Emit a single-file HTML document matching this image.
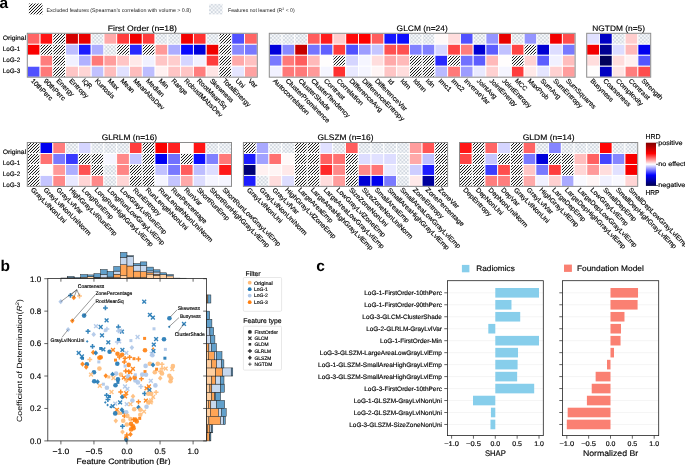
<!DOCTYPE html>
<html><head><meta charset="utf-8"><style>
html,body{margin:0;padding:0;background:#fff;width:685px;height:465px;overflow:hidden}
svg{display:block;will-change:transform;font-family:"Liberation Sans",sans-serif;text-rendering:geometricPrecision}
</style></head><body>
<svg width="685" height="465" viewBox="0 0 685 465">
<defs>
<pattern id="hatch" patternUnits="userSpaceOnUse" width="3" height="3">
<rect width="3" height="3" fill="#f8f8f8"/><path d="M-1,1 L1,-1 M0,3 L3,0 M2,4 L4,2" stroke="#1e1e1e" stroke-width="1.0"/></pattern>
<pattern id="dots" patternUnits="userSpaceOnUse" width="3.7" height="3.7">
<rect width="3.7" height="3.7" fill="#f6f8fa"/><rect x="0" y="0" width="1.85" height="1.85" fill="#d4dae2"/><rect x="1.85" y="1.85" width="1.85" height="1.85" fill="#d4dae2"/></pattern>
</defs>
<rect width="685" height="465" fill="#fff"/>
<text x="-0.60" y="8.20" font-size="15.50" font-weight="bold">a</text>
<rect x="28.9" y="3.5" width="13.6" height="10.9" fill="url(#hatch)"/>
<text x="46.4" y="12.4" font-size="5.3" fill="#222" textLength="144.6" lengthAdjust="spacingAndGlyphs">Excluded features (Spearman’s correlation with volume &gt; 0.8)</text>
<rect x="209" y="3.9" width="13.5" height="10.5" fill="url(#dots)"/>
<text x="228" y="12.4" font-size="5.3" fill="#222" textLength="66.7" lengthAdjust="spacingAndGlyphs">Features not learned (R<tspan font-size="3.6" dy="-2">2</tspan><tspan dy="2"> &lt; 0)</tspan></text>
<rect x="27.30" y="33.30" width="12.78" height="10.97" fill="#ff6565" stroke="#fff" stroke-width="0.9"/>
<rect x="40.08" y="33.30" width="12.78" height="10.97" fill="#ff1515" stroke="#fff" stroke-width="0.9"/>
<rect x="52.86" y="33.30" width="12.78" height="10.97" fill="url(#hatch)" stroke="#fff" stroke-width="0.9"/>
<rect x="65.63" y="33.30" width="12.78" height="10.97" fill="#d30000" stroke="#fff" stroke-width="0.9"/>
<rect x="78.41" y="33.30" width="12.78" height="10.97" fill="#ea0000" stroke="#fff" stroke-width="0.9"/>
<rect x="91.19" y="33.30" width="12.78" height="10.97" fill="url(#dots)" stroke="#fff" stroke-width="0.9"/>
<rect x="103.97" y="33.30" width="12.78" height="10.97" fill="#ffa9a9" stroke="#fff" stroke-width="0.9"/>
<rect x="116.74" y="33.30" width="12.78" height="10.97" fill="#ff3d3d" stroke="#fff" stroke-width="0.9"/>
<rect x="129.52" y="33.30" width="12.78" height="10.97" fill="#f20000" stroke="#fff" stroke-width="0.9"/>
<rect x="142.30" y="33.30" width="12.78" height="10.97" fill="#ff3d3d" stroke="#fff" stroke-width="0.9"/>
<rect x="155.08" y="33.30" width="12.78" height="10.97" fill="url(#dots)" stroke="#fff" stroke-width="0.9"/>
<rect x="167.86" y="33.30" width="12.78" height="10.97" fill="url(#dots)" stroke="#fff" stroke-width="0.9"/>
<rect x="180.63" y="33.30" width="12.78" height="10.97" fill="#f20000" stroke="#fff" stroke-width="0.9"/>
<rect x="193.41" y="33.30" width="12.78" height="10.97" fill="#ff3131" stroke="#fff" stroke-width="0.9"/>
<rect x="206.19" y="33.30" width="12.78" height="10.97" fill="url(#dots)" stroke="#fff" stroke-width="0.9"/>
<rect x="218.97" y="33.30" width="12.78" height="10.97" fill="url(#hatch)" stroke="#fff" stroke-width="0.9"/>
<rect x="231.74" y="33.30" width="12.78" height="10.97" fill="#5151ff" stroke="#fff" stroke-width="0.9"/>
<rect x="244.52" y="33.30" width="12.78" height="10.97" fill="#ff6565" stroke="#fff" stroke-width="0.9"/>
<rect x="27.30" y="44.27" width="12.78" height="10.97" fill="#fa0000" stroke="#fff" stroke-width="0.9"/>
<rect x="40.08" y="44.27" width="12.78" height="10.97" fill="url(#hatch)" stroke="#fff" stroke-width="0.9"/>
<rect x="52.86" y="44.27" width="12.78" height="10.97" fill="url(#hatch)" stroke="#fff" stroke-width="0.9"/>
<rect x="65.63" y="44.27" width="12.78" height="10.97" fill="#bdbdff" stroke="#fff" stroke-width="0.9"/>
<rect x="78.41" y="44.27" width="12.78" height="10.97" fill="#1d1dff" stroke="#fff" stroke-width="0.9"/>
<rect x="91.19" y="44.27" width="12.78" height="10.97" fill="#adadff" stroke="#fff" stroke-width="0.9"/>
<rect x="103.97" y="44.27" width="12.78" height="10.97" fill="url(#dots)" stroke="#fff" stroke-width="0.9"/>
<rect x="116.74" y="44.27" width="12.78" height="10.97" fill="url(#hatch)" stroke="#fff" stroke-width="0.9"/>
<rect x="129.52" y="44.27" width="12.78" height="10.97" fill="#2929ff" stroke="#fff" stroke-width="0.9"/>
<rect x="142.30" y="44.27" width="12.78" height="10.97" fill="url(#hatch)" stroke="#fff" stroke-width="0.9"/>
<rect x="155.08" y="44.27" width="12.78" height="10.97" fill="#ff9999" stroke="#fff" stroke-width="0.9"/>
<rect x="167.86" y="44.27" width="12.78" height="10.97" fill="#adadff" stroke="#fff" stroke-width="0.9"/>
<rect x="180.63" y="44.27" width="12.78" height="10.97" fill="#0909ff" stroke="#fff" stroke-width="0.9"/>
<rect x="193.41" y="44.27" width="12.78" height="10.97" fill="#0000db" stroke="#fff" stroke-width="0.9"/>
<rect x="206.19" y="44.27" width="12.78" height="10.97" fill="#f00000" stroke="#fff" stroke-width="0.9"/>
<rect x="218.97" y="44.27" width="12.78" height="10.97" fill="url(#hatch)" stroke="#fff" stroke-width="0.9"/>
<rect x="231.74" y="44.27" width="12.78" height="10.97" fill="#8989ff" stroke="#fff" stroke-width="0.9"/>
<rect x="244.52" y="44.27" width="12.78" height="10.97" fill="#7979ff" stroke="#fff" stroke-width="0.9"/>
<rect x="27.30" y="55.24" width="12.78" height="10.97" fill="#fffdfd" stroke="#fff" stroke-width="0.9"/>
<rect x="40.08" y="55.24" width="12.78" height="10.97" fill="#ff7d7d" stroke="#fff" stroke-width="0.9"/>
<rect x="52.86" y="55.24" width="12.78" height="10.97" fill="url(#hatch)" stroke="#fff" stroke-width="0.9"/>
<rect x="65.63" y="55.24" width="12.78" height="10.97" fill="#f1f1ff" stroke="#fff" stroke-width="0.9"/>
<rect x="78.41" y="55.24" width="12.78" height="10.97" fill="#b1b1ff" stroke="#fff" stroke-width="0.9"/>
<rect x="91.19" y="55.24" width="12.78" height="10.97" fill="#ff7979" stroke="#fff" stroke-width="0.9"/>
<rect x="103.97" y="55.24" width="12.78" height="10.97" fill="#ff9d9d" stroke="#fff" stroke-width="0.9"/>
<rect x="116.74" y="55.24" width="12.78" height="10.97" fill="#ffc5c5" stroke="#fff" stroke-width="0.9"/>
<rect x="129.52" y="55.24" width="12.78" height="10.97" fill="#ffe9e9" stroke="#fff" stroke-width="0.9"/>
<rect x="142.30" y="55.24" width="12.78" height="10.97" fill="#f1f1ff" stroke="#fff" stroke-width="0.9"/>
<rect x="155.08" y="55.24" width="12.78" height="10.97" fill="#ffc5c5" stroke="#fff" stroke-width="0.9"/>
<rect x="167.86" y="55.24" width="12.78" height="10.97" fill="#ffcdcd" stroke="#fff" stroke-width="0.9"/>
<rect x="180.63" y="55.24" width="12.78" height="10.97" fill="#d5d5ff" stroke="#fff" stroke-width="0.9"/>
<rect x="193.41" y="55.24" width="12.78" height="10.97" fill="#f1f1ff" stroke="#fff" stroke-width="0.9"/>
<rect x="206.19" y="55.24" width="12.78" height="10.97" fill="#ff3d3d" stroke="#fff" stroke-width="0.9"/>
<rect x="218.97" y="55.24" width="12.78" height="10.97" fill="url(#hatch)" stroke="#fff" stroke-width="0.9"/>
<rect x="231.74" y="55.24" width="12.78" height="10.97" fill="#ffa9a9" stroke="#fff" stroke-width="0.9"/>
<rect x="244.52" y="55.24" width="12.78" height="10.97" fill="#ffc1c1" stroke="#fff" stroke-width="0.9"/>
<rect x="27.30" y="66.21" width="12.78" height="10.97" fill="#5151ff" stroke="#fff" stroke-width="0.9"/>
<rect x="40.08" y="66.21" width="12.78" height="10.97" fill="#ff7979" stroke="#fff" stroke-width="0.9"/>
<rect x="52.86" y="66.21" width="12.78" height="10.97" fill="url(#hatch)" stroke="#fff" stroke-width="0.9"/>
<rect x="65.63" y="66.21" width="12.78" height="10.97" fill="#ffc5c5" stroke="#fff" stroke-width="0.9"/>
<rect x="78.41" y="66.21" width="12.78" height="10.97" fill="#ffd5d5" stroke="#fff" stroke-width="0.9"/>
<rect x="91.19" y="66.21" width="12.78" height="10.97" fill="#c1c1ff" stroke="#fff" stroke-width="0.9"/>
<rect x="103.97" y="66.21" width="12.78" height="10.97" fill="#ffbdbd" stroke="#fff" stroke-width="0.9"/>
<rect x="116.74" y="66.21" width="12.78" height="10.97" fill="#e1e1ff" stroke="#fff" stroke-width="0.9"/>
<rect x="129.52" y="66.21" width="12.78" height="10.97" fill="#ffbdbd" stroke="#fff" stroke-width="0.9"/>
<rect x="142.30" y="66.21" width="12.78" height="10.97" fill="#bdbdff" stroke="#fff" stroke-width="0.9"/>
<rect x="155.08" y="66.21" width="12.78" height="10.97" fill="#fff1f1" stroke="#fff" stroke-width="0.9"/>
<rect x="167.86" y="66.21" width="12.78" height="10.97" fill="#ffc5c5" stroke="#fff" stroke-width="0.9"/>
<rect x="180.63" y="66.21" width="12.78" height="10.97" fill="#ffc5c5" stroke="#fff" stroke-width="0.9"/>
<rect x="193.41" y="66.21" width="12.78" height="10.97" fill="#ff7d7d" stroke="#fff" stroke-width="0.9"/>
<rect x="206.19" y="66.21" width="12.78" height="10.97" fill="#ffe5e5" stroke="#fff" stroke-width="0.9"/>
<rect x="218.97" y="66.21" width="12.78" height="10.97" fill="url(#hatch)" stroke="#fff" stroke-width="0.9"/>
<rect x="231.74" y="66.21" width="12.78" height="10.97" fill="#e5e5ff" stroke="#fff" stroke-width="0.9"/>
<rect x="244.52" y="66.21" width="12.78" height="10.97" fill="#ffa1a1" stroke="#fff" stroke-width="0.9"/>
<rect x="27.30" y="33.30" width="230.00" height="43.88" fill="none" stroke="#8c8c8c" stroke-width="1"/>
<text x="142.30" y="30.80" font-size="7.98" text-anchor="middle" textLength="69.21" lengthAdjust="spacingAndGlyphs" stroke="#000" stroke-width="0.15">First Order (n=18)</text>
<text x="30.49" y="81.18" font-size="6.62" textLength="27.85" lengthAdjust="spacingAndGlyphs" transform="rotate(45 30.49 81.18)" stroke="#000" stroke-width="0.15">10thPerc</text>
<text x="43.27" y="81.18" font-size="6.62" textLength="27.85" lengthAdjust="spacingAndGlyphs" transform="rotate(45 43.27 81.18)" stroke="#000" stroke-width="0.15">90thPerc</text>
<text x="56.04" y="81.18" font-size="6.62" textLength="22.06" lengthAdjust="spacingAndGlyphs" transform="rotate(45 56.04 81.18)" stroke="#000" stroke-width="0.15">Energy</text>
<text x="68.82" y="81.18" font-size="6.62" textLength="24.48" lengthAdjust="spacingAndGlyphs" transform="rotate(45 68.82 81.18)" stroke="#000" stroke-width="0.15">Entropy</text>
<text x="81.60" y="81.18" font-size="6.62" textLength="11.19" lengthAdjust="spacingAndGlyphs" transform="rotate(45 81.60 81.18)" stroke="#000" stroke-width="0.15">IQR</text>
<text x="94.38" y="81.18" font-size="6.62" textLength="25.04" lengthAdjust="spacingAndGlyphs" transform="rotate(45 94.38 81.18)" stroke="#000" stroke-width="0.15">Kurtosis</text>
<text x="107.16" y="81.18" font-size="6.62" textLength="13.02" lengthAdjust="spacingAndGlyphs" transform="rotate(45 107.16 81.18)" stroke="#000" stroke-width="0.15">Max</text>
<text x="119.93" y="81.18" font-size="6.62" textLength="17.17" lengthAdjust="spacingAndGlyphs" transform="rotate(45 119.93 81.18)" stroke="#000" stroke-width="0.15">Mean</text>
<text x="132.71" y="81.18" font-size="6.62" textLength="41.21" lengthAdjust="spacingAndGlyphs" transform="rotate(45 132.71 81.18)" stroke="#000" stroke-width="0.15">MeanAbsDev</text>
<text x="145.49" y="81.18" font-size="6.62" textLength="22.91" lengthAdjust="spacingAndGlyphs" transform="rotate(45 145.49 81.18)" stroke="#000" stroke-width="0.15">Median</text>
<text x="158.27" y="81.18" font-size="6.62" textLength="11.18" lengthAdjust="spacingAndGlyphs" transform="rotate(45 158.27 81.18)" stroke="#000" stroke-width="0.15">Min</text>
<text x="171.04" y="81.18" font-size="6.62" textLength="19.97" lengthAdjust="spacingAndGlyphs" transform="rotate(45 171.04 81.18)" stroke="#000" stroke-width="0.15">Range</text>
<text x="183.82" y="81.18" font-size="6.62" textLength="51.18" lengthAdjust="spacingAndGlyphs" transform="rotate(45 183.82 81.18)" stroke="#000" stroke-width="0.15">RobustMAbsDev</text>
<text x="196.60" y="81.18" font-size="6.62" textLength="39.44" lengthAdjust="spacingAndGlyphs" transform="rotate(45 196.60 81.18)" stroke="#000" stroke-width="0.15">RootMeanSq</text>
<text x="209.38" y="81.18" font-size="6.62" textLength="30.88" lengthAdjust="spacingAndGlyphs" transform="rotate(45 209.38 81.18)" stroke="#000" stroke-width="0.15">Skewness</text>
<text x="222.16" y="81.18" font-size="6.62" textLength="36.77" lengthAdjust="spacingAndGlyphs" transform="rotate(45 222.16 81.18)" stroke="#000" stroke-width="0.15">TotalEnergy</text>
<text x="234.93" y="81.18" font-size="6.62" textLength="10.35" lengthAdjust="spacingAndGlyphs" transform="rotate(45 234.93 81.18)" stroke="#000" stroke-width="0.15">Uni</text>
<text x="247.71" y="81.18" font-size="6.62" textLength="10.27" lengthAdjust="spacingAndGlyphs" transform="rotate(45 247.71 81.18)" stroke="#000" stroke-width="0.15">Var</text>
<text x="2.70" y="40.28" font-size="6.30" textLength="23.48" lengthAdjust="spacingAndGlyphs" stroke="#000" stroke-width="0.15">Original</text>
<text x="2.70" y="51.25" font-size="6.30" textLength="17.54" lengthAdjust="spacingAndGlyphs" stroke="#000" stroke-width="0.15">LoG-1</text>
<text x="2.70" y="62.22" font-size="6.30" textLength="17.54" lengthAdjust="spacingAndGlyphs" stroke="#000" stroke-width="0.15">LoG-2</text>
<text x="2.70" y="73.19" font-size="6.30" textLength="17.54" lengthAdjust="spacingAndGlyphs" stroke="#000" stroke-width="0.15">LoG-3</text>
<rect x="269.30" y="33.30" width="12.74" height="10.97" fill="url(#dots)" stroke="#fff" stroke-width="0.9"/>
<rect x="282.04" y="33.30" width="12.74" height="10.97" fill="url(#dots)" stroke="#fff" stroke-width="0.9"/>
<rect x="294.78" y="33.30" width="12.74" height="10.97" fill="url(#dots)" stroke="#fff" stroke-width="0.9"/>
<rect x="307.53" y="33.30" width="12.74" height="10.97" fill="#ff5d5d" stroke="#fff" stroke-width="0.9"/>
<rect x="320.27" y="33.30" width="12.74" height="10.97" fill="#ff1d1d" stroke="#fff" stroke-width="0.9"/>
<rect x="333.01" y="33.30" width="12.74" height="10.97" fill="#ffcdcd" stroke="#fff" stroke-width="0.9"/>
<rect x="345.75" y="33.30" width="12.74" height="10.97" fill="#ff0909" stroke="#fff" stroke-width="0.9"/>
<rect x="358.49" y="33.30" width="12.74" height="10.97" fill="#fe0000" stroke="#fff" stroke-width="0.9"/>
<rect x="371.23" y="33.30" width="12.74" height="10.97" fill="#ff5d5d" stroke="#fff" stroke-width="0.9"/>
<rect x="383.98" y="33.30" width="12.74" height="10.97" fill="#1515ff" stroke="#fff" stroke-width="0.9"/>
<rect x="396.72" y="33.30" width="12.74" height="10.97" fill="#0d0dff" stroke="#fff" stroke-width="0.9"/>
<rect x="409.46" y="33.30" width="12.74" height="10.97" fill="url(#dots)" stroke="#fff" stroke-width="0.9"/>
<rect x="422.20" y="33.30" width="12.74" height="10.97" fill="url(#dots)" stroke="#fff" stroke-width="0.9"/>
<rect x="434.94" y="33.30" width="12.74" height="10.97" fill="#fff9f9" stroke="#fff" stroke-width="0.9"/>
<rect x="447.68" y="33.30" width="12.74" height="10.97" fill="#ffdddd" stroke="#fff" stroke-width="0.9"/>
<rect x="460.43" y="33.30" width="12.74" height="10.97" fill="#5151ff" stroke="#fff" stroke-width="0.9"/>
<rect x="473.17" y="33.30" width="12.74" height="10.97" fill="url(#dots)" stroke="#fff" stroke-width="0.9"/>
<rect x="485.91" y="33.30" width="12.74" height="10.97" fill="#9595ff" stroke="#fff" stroke-width="0.9"/>
<rect x="498.65" y="33.30" width="12.74" height="10.97" fill="#e80000" stroke="#fff" stroke-width="0.9"/>
<rect x="511.39" y="33.30" width="12.74" height="10.97" fill="url(#dots)" stroke="#fff" stroke-width="0.9"/>
<rect x="524.13" y="33.30" width="12.74" height="10.97" fill="#9595ff" stroke="#fff" stroke-width="0.9"/>
<rect x="536.88" y="33.30" width="12.74" height="10.97" fill="url(#dots)" stroke="#fff" stroke-width="0.9"/>
<rect x="549.62" y="33.30" width="12.74" height="10.97" fill="#f20000" stroke="#fff" stroke-width="0.9"/>
<rect x="562.36" y="33.30" width="12.74" height="10.97" fill="#ff4d4d" stroke="#fff" stroke-width="0.9"/>
<rect x="269.30" y="44.27" width="12.74" height="10.97" fill="#0000db" stroke="#fff" stroke-width="0.9"/>
<rect x="282.04" y="44.27" width="12.74" height="10.97" fill="#8989ff" stroke="#fff" stroke-width="0.9"/>
<rect x="294.78" y="44.27" width="12.74" height="10.97" fill="#c60000" stroke="#fff" stroke-width="0.9"/>
<rect x="307.53" y="44.27" width="12.74" height="10.97" fill="#7575ff" stroke="#fff" stroke-width="0.9"/>
<rect x="320.27" y="44.27" width="12.74" height="10.97" fill="#6161ff" stroke="#fff" stroke-width="0.9"/>
<rect x="333.01" y="44.27" width="12.74" height="10.97" fill="#ff3d3d" stroke="#fff" stroke-width="0.9"/>
<rect x="345.75" y="44.27" width="12.74" height="10.97" fill="#5151ff" stroke="#fff" stroke-width="0.9"/>
<rect x="358.49" y="44.27" width="12.74" height="10.97" fill="#9d9dff" stroke="#fff" stroke-width="0.9"/>
<rect x="371.23" y="44.27" width="12.74" height="10.97" fill="#c5c5ff" stroke="#fff" stroke-width="0.9"/>
<rect x="383.98" y="44.27" width="12.74" height="10.97" fill="#ff5151" stroke="#fff" stroke-width="0.9"/>
<rect x="396.72" y="44.27" width="12.74" height="10.97" fill="#ff5151" stroke="#fff" stroke-width="0.9"/>
<rect x="409.46" y="44.27" width="12.74" height="10.97" fill="#8181ff" stroke="#fff" stroke-width="0.9"/>
<rect x="422.20" y="44.27" width="12.74" height="10.97" fill="#8181ff" stroke="#fff" stroke-width="0.9"/>
<rect x="434.94" y="44.27" width="12.74" height="10.97" fill="#d5d5ff" stroke="#fff" stroke-width="0.9"/>
<rect x="447.68" y="44.27" width="12.74" height="10.97" fill="#ff4545" stroke="#fff" stroke-width="0.9"/>
<rect x="460.43" y="44.27" width="12.74" height="10.97" fill="#ff7d7d" stroke="#fff" stroke-width="0.9"/>
<rect x="473.17" y="44.27" width="12.74" height="10.97" fill="#0000d3" stroke="#fff" stroke-width="0.9"/>
<rect x="485.91" y="44.27" width="12.74" height="10.97" fill="#5d5dff" stroke="#fff" stroke-width="0.9"/>
<rect x="498.65" y="44.27" width="12.74" height="10.97" fill="#c1c1ff" stroke="#fff" stroke-width="0.9"/>
<rect x="511.39" y="44.27" width="12.74" height="10.97" fill="#ff4545" stroke="#fff" stroke-width="0.9"/>
<rect x="524.13" y="44.27" width="12.74" height="10.97" fill="url(#hatch)" stroke="#fff" stroke-width="0.9"/>
<rect x="536.88" y="44.27" width="12.74" height="10.97" fill="#0000d3" stroke="#fff" stroke-width="0.9"/>
<rect x="549.62" y="44.27" width="12.74" height="10.97" fill="#ddddff" stroke="#fff" stroke-width="0.9"/>
<rect x="562.36" y="44.27" width="12.74" height="10.97" fill="#7979ff" stroke="#fff" stroke-width="0.9"/>
<rect x="269.30" y="55.24" width="12.74" height="10.97" fill="#7979ff" stroke="#fff" stroke-width="0.9"/>
<rect x="282.04" y="55.24" width="12.74" height="10.97" fill="#ff7979" stroke="#fff" stroke-width="0.9"/>
<rect x="294.78" y="55.24" width="12.74" height="10.97" fill="#ff5d5d" stroke="#fff" stroke-width="0.9"/>
<rect x="307.53" y="55.24" width="12.74" height="10.97" fill="#ffb9b9" stroke="#fff" stroke-width="0.9"/>
<rect x="320.27" y="55.24" width="12.74" height="10.97" fill="#fffdfd" stroke="#fff" stroke-width="0.9"/>
<rect x="333.01" y="55.24" width="12.74" height="10.97" fill="url(#hatch)" stroke="#fff" stroke-width="0.9"/>
<rect x="345.75" y="55.24" width="12.74" height="10.97" fill="#d5d5ff" stroke="#fff" stroke-width="0.9"/>
<rect x="358.49" y="55.24" width="12.74" height="10.97" fill="#f5f5ff" stroke="#fff" stroke-width="0.9"/>
<rect x="371.23" y="55.24" width="12.74" height="10.97" fill="#ffdddd" stroke="#fff" stroke-width="0.9"/>
<rect x="383.98" y="55.24" width="12.74" height="10.97" fill="#ffa9a9" stroke="#fff" stroke-width="0.9"/>
<rect x="396.72" y="55.24" width="12.74" height="10.97" fill="#ffb9b9" stroke="#fff" stroke-width="0.9"/>
<rect x="409.46" y="55.24" width="12.74" height="10.97" fill="url(#hatch)" stroke="#fff" stroke-width="0.9"/>
<rect x="422.20" y="55.24" width="12.74" height="10.97" fill="url(#hatch)" stroke="#fff" stroke-width="0.9"/>
<rect x="434.94" y="55.24" width="12.74" height="10.97" fill="#2929ff" stroke="#fff" stroke-width="0.9"/>
<rect x="447.68" y="55.24" width="12.74" height="10.97" fill="url(#hatch)" stroke="#fff" stroke-width="0.9"/>
<rect x="460.43" y="55.24" width="12.74" height="10.97" fill="#7171ff" stroke="#fff" stroke-width="0.9"/>
<rect x="473.17" y="55.24" width="12.74" height="10.97" fill="#5d5dff" stroke="#fff" stroke-width="0.9"/>
<rect x="485.91" y="55.24" width="12.74" height="10.97" fill="#ffb9b9" stroke="#fff" stroke-width="0.9"/>
<rect x="498.65" y="55.24" width="12.74" height="10.97" fill="#fffdfd" stroke="#fff" stroke-width="0.9"/>
<rect x="511.39" y="55.24" width="12.74" height="10.97" fill="url(#hatch)" stroke="#fff" stroke-width="0.9"/>
<rect x="524.13" y="55.24" width="12.74" height="10.97" fill="#ffd1d1" stroke="#fff" stroke-width="0.9"/>
<rect x="536.88" y="55.24" width="12.74" height="10.97" fill="#5d5dff" stroke="#fff" stroke-width="0.9"/>
<rect x="549.62" y="55.24" width="12.74" height="10.97" fill="#f1f1ff" stroke="#fff" stroke-width="0.9"/>
<rect x="562.36" y="55.24" width="12.74" height="10.97" fill="#ffbdbd" stroke="#fff" stroke-width="0.9"/>
<rect x="269.30" y="66.21" width="12.74" height="10.97" fill="#f1f1ff" stroke="#fff" stroke-width="0.9"/>
<rect x="282.04" y="66.21" width="12.74" height="10.97" fill="#ff7979" stroke="#fff" stroke-width="0.9"/>
<rect x="294.78" y="66.21" width="12.74" height="10.97" fill="#ff7979" stroke="#fff" stroke-width="0.9"/>
<rect x="307.53" y="66.21" width="12.74" height="10.97" fill="#ff9999" stroke="#fff" stroke-width="0.9"/>
<rect x="320.27" y="66.21" width="12.74" height="10.97" fill="#f5f5ff" stroke="#fff" stroke-width="0.9"/>
<rect x="333.01" y="66.21" width="12.74" height="10.97" fill="#ff3131" stroke="#fff" stroke-width="0.9"/>
<rect x="345.75" y="66.21" width="12.74" height="10.97" fill="#e9e9ff" stroke="#fff" stroke-width="0.9"/>
<rect x="358.49" y="66.21" width="12.74" height="10.97" fill="#f5f5ff" stroke="#fff" stroke-width="0.9"/>
<rect x="371.23" y="66.21" width="12.74" height="10.97" fill="#fff5f5" stroke="#fff" stroke-width="0.9"/>
<rect x="383.98" y="66.21" width="12.74" height="10.97" fill="#ffc5c5" stroke="#fff" stroke-width="0.9"/>
<rect x="396.72" y="66.21" width="12.74" height="10.97" fill="#ffdddd" stroke="#fff" stroke-width="0.9"/>
<rect x="409.46" y="66.21" width="12.74" height="10.97" fill="url(#hatch)" stroke="#fff" stroke-width="0.9"/>
<rect x="422.20" y="66.21" width="12.74" height="10.97" fill="url(#hatch)" stroke="#fff" stroke-width="0.9"/>
<rect x="434.94" y="66.21" width="12.74" height="10.97" fill="#b9b9ff" stroke="#fff" stroke-width="0.9"/>
<rect x="447.68" y="66.21" width="12.74" height="10.97" fill="#ff7979" stroke="#fff" stroke-width="0.9"/>
<rect x="460.43" y="66.21" width="12.74" height="10.97" fill="#9d9dff" stroke="#fff" stroke-width="0.9"/>
<rect x="473.17" y="66.21" width="12.74" height="10.97" fill="#e9e9ff" stroke="#fff" stroke-width="0.9"/>
<rect x="485.91" y="66.21" width="12.74" height="10.97" fill="#ffd1d1" stroke="#fff" stroke-width="0.9"/>
<rect x="498.65" y="66.21" width="12.74" height="10.97" fill="#f5f5ff" stroke="#fff" stroke-width="0.9"/>
<rect x="511.39" y="66.21" width="12.74" height="10.97" fill="#ff3d3d" stroke="#fff" stroke-width="0.9"/>
<rect x="524.13" y="66.21" width="12.74" height="10.97" fill="#ffe9e9" stroke="#fff" stroke-width="0.9"/>
<rect x="536.88" y="66.21" width="12.74" height="10.97" fill="#e5e5ff" stroke="#fff" stroke-width="0.9"/>
<rect x="549.62" y="66.21" width="12.74" height="10.97" fill="#ffd1d1" stroke="#fff" stroke-width="0.9"/>
<rect x="562.36" y="66.21" width="12.74" height="10.97" fill="#ff9d9d" stroke="#fff" stroke-width="0.9"/>
<rect x="269.30" y="33.30" width="305.80" height="43.88" fill="none" stroke="#8c8c8c" stroke-width="1"/>
<text x="422.20" y="30.80" font-size="7.98" text-anchor="middle" textLength="51.19" lengthAdjust="spacingAndGlyphs" stroke="#000" stroke-width="0.15">GLCM (n=24)</text>
<text x="272.47" y="81.18" font-size="6.62" textLength="48.43" lengthAdjust="spacingAndGlyphs" transform="rotate(45 272.47 81.18)" stroke="#000" stroke-width="0.15">Autocorrelation</text>
<text x="285.21" y="81.18" font-size="6.62" textLength="59.44" lengthAdjust="spacingAndGlyphs" transform="rotate(45 285.21 81.18)" stroke="#000" stroke-width="0.15">ClusterProminence</text>
<text x="297.95" y="81.18" font-size="6.62" textLength="42.09" lengthAdjust="spacingAndGlyphs" transform="rotate(45 297.95 81.18)" stroke="#000" stroke-width="0.15">ClusterShade</text>
<text x="310.70" y="81.18" font-size="6.62" textLength="52.07" lengthAdjust="spacingAndGlyphs" transform="rotate(45 310.70 81.18)" stroke="#000" stroke-width="0.15">ClusterTendency</text>
<text x="323.44" y="81.18" font-size="6.62" textLength="26.92" lengthAdjust="spacingAndGlyphs" transform="rotate(45 323.44 81.18)" stroke="#000" stroke-width="0.15">Contrast</text>
<text x="336.18" y="81.18" font-size="6.62" textLength="34.74" lengthAdjust="spacingAndGlyphs" transform="rotate(45 336.18 81.18)" stroke="#000" stroke-width="0.15">Correlation</text>
<text x="348.92" y="81.18" font-size="6.62" textLength="44.15" lengthAdjust="spacingAndGlyphs" transform="rotate(45 348.92 81.18)" stroke="#000" stroke-width="0.15">DifferenceAvg</text>
<text x="361.66" y="81.18" font-size="6.62" textLength="56.96" lengthAdjust="spacingAndGlyphs" transform="rotate(45 361.66 81.18)" stroke="#000" stroke-width="0.15">DifferenceEntropy</text>
<text x="374.40" y="81.18" font-size="6.62" textLength="42.75" lengthAdjust="spacingAndGlyphs" transform="rotate(45 374.40 81.18)" stroke="#000" stroke-width="0.15">DifferenceVar</text>
<text x="387.15" y="81.18" font-size="6.62" textLength="5.86" lengthAdjust="spacingAndGlyphs" transform="rotate(45 387.15 81.18)" stroke="#000" stroke-width="0.15">Id</text>
<text x="399.89" y="81.18" font-size="6.62" textLength="11.99" lengthAdjust="spacingAndGlyphs" transform="rotate(45 399.89 81.18)" stroke="#000" stroke-width="0.15">Idm</text>
<text x="412.63" y="81.18" font-size="6.62" textLength="15.99" lengthAdjust="spacingAndGlyphs" transform="rotate(45 412.63 81.18)" stroke="#000" stroke-width="0.15">Idmn</text>
<text x="425.37" y="81.18" font-size="6.62" textLength="9.85" lengthAdjust="spacingAndGlyphs" transform="rotate(45 425.37 81.18)" stroke="#000" stroke-width="0.15">Idn</text>
<text x="438.11" y="81.18" font-size="6.62" textLength="15.47" lengthAdjust="spacingAndGlyphs" transform="rotate(45 438.11 81.18)" stroke="#000" stroke-width="0.15">Imc1</text>
<text x="450.85" y="81.18" font-size="6.62" textLength="15.47" lengthAdjust="spacingAndGlyphs" transform="rotate(45 450.85 81.18)" stroke="#000" stroke-width="0.15">Imc2</text>
<text x="463.60" y="81.18" font-size="6.62" textLength="33.48" lengthAdjust="spacingAndGlyphs" transform="rotate(45 463.60 81.18)" stroke="#000" stroke-width="0.15">InverseVar</text>
<text x="476.34" y="81.18" font-size="6.62" textLength="25.59" lengthAdjust="spacingAndGlyphs" transform="rotate(45 476.34 81.18)" stroke="#000" stroke-width="0.15">JointAvg</text>
<text x="489.08" y="81.18" font-size="6.62" textLength="35.98" lengthAdjust="spacingAndGlyphs" transform="rotate(45 489.08 81.18)" stroke="#000" stroke-width="0.15">JointEnergy</text>
<text x="501.82" y="81.18" font-size="6.62" textLength="38.40" lengthAdjust="spacingAndGlyphs" transform="rotate(45 501.82 81.18)" stroke="#000" stroke-width="0.15">JointEntropy</text>
<text x="514.56" y="81.18" font-size="6.62" textLength="14.23" lengthAdjust="spacingAndGlyphs" transform="rotate(45 514.56 81.18)" stroke="#000" stroke-width="0.15">MCC</text>
<text x="527.30" y="81.18" font-size="6.62" textLength="27.02" lengthAdjust="spacingAndGlyphs" transform="rotate(45 527.30 81.18)" stroke="#000" stroke-width="0.15">MaxProb</text>
<text x="540.05" y="81.18" font-size="6.62" textLength="25.80" lengthAdjust="spacingAndGlyphs" transform="rotate(45 540.05 81.18)" stroke="#000" stroke-width="0.15">SumAvg</text>
<text x="552.79" y="81.18" font-size="6.62" textLength="38.61" lengthAdjust="spacingAndGlyphs" transform="rotate(45 552.79 81.18)" stroke="#000" stroke-width="0.15">SumEntropy</text>
<text x="565.53" y="81.18" font-size="6.62" textLength="39.59" lengthAdjust="spacingAndGlyphs" transform="rotate(45 565.53 81.18)" stroke="#000" stroke-width="0.15">SumSquares</text>
<rect x="586.70" y="33.30" width="12.80" height="10.97" fill="#e1e1ff" stroke="#fff" stroke-width="0.9"/>
<rect x="599.50" y="33.30" width="12.80" height="10.97" fill="#0000c5" stroke="#fff" stroke-width="0.9"/>
<rect x="612.30" y="33.30" width="12.80" height="10.97" fill="url(#dots)" stroke="#fff" stroke-width="0.9"/>
<rect x="625.10" y="33.30" width="12.80" height="10.97" fill="#ffcdcd" stroke="#fff" stroke-width="0.9"/>
<rect x="637.90" y="33.30" width="12.80" height="10.97" fill="url(#dots)" stroke="#fff" stroke-width="0.9"/>
<rect x="586.70" y="44.27" width="12.80" height="10.97" fill="#f40000" stroke="#fff" stroke-width="0.9"/>
<rect x="599.50" y="44.27" width="12.80" height="10.97" fill="#000092" stroke="#fff" stroke-width="0.9"/>
<rect x="612.30" y="44.27" width="12.80" height="10.97" fill="#ddddff" stroke="#fff" stroke-width="0.9"/>
<rect x="625.10" y="44.27" width="12.80" height="10.97" fill="#ffb9b9" stroke="#fff" stroke-width="0.9"/>
<rect x="637.90" y="44.27" width="12.80" height="10.97" fill="#0000ef" stroke="#fff" stroke-width="0.9"/>
<rect x="586.70" y="55.24" width="12.80" height="10.97" fill="#ffdddd" stroke="#fff" stroke-width="0.9"/>
<rect x="599.50" y="55.24" width="12.80" height="10.97" fill="#00005a" stroke="#fff" stroke-width="0.9"/>
<rect x="612.30" y="55.24" width="12.80" height="10.97" fill="#ffdddd" stroke="#fff" stroke-width="0.9"/>
<rect x="625.10" y="55.24" width="12.80" height="10.97" fill="#fff1f1" stroke="#fff" stroke-width="0.9"/>
<rect x="637.90" y="55.24" width="12.80" height="10.97" fill="#5555ff" stroke="#fff" stroke-width="0.9"/>
<rect x="586.70" y="66.21" width="12.80" height="10.97" fill="#fffdfd" stroke="#fff" stroke-width="0.9"/>
<rect x="599.50" y="66.21" width="12.80" height="10.97" fill="#0000c2" stroke="#fff" stroke-width="0.9"/>
<rect x="612.30" y="66.21" width="12.80" height="10.97" fill="#ffe5e5" stroke="#fff" stroke-width="0.9"/>
<rect x="625.10" y="66.21" width="12.80" height="10.97" fill="#ff7d7d" stroke="#fff" stroke-width="0.9"/>
<rect x="637.90" y="66.21" width="12.80" height="10.97" fill="#ff4d4d" stroke="#fff" stroke-width="0.9"/>
<rect x="586.70" y="33.30" width="64.00" height="43.88" fill="none" stroke="#8c8c8c" stroke-width="1"/>
<text x="618.70" y="30.80" font-size="7.98" text-anchor="middle" textLength="52.72" lengthAdjust="spacingAndGlyphs" stroke="#000" stroke-width="0.15">NGTDM (n=5)</text>
<text x="589.90" y="81.18" font-size="6.62" textLength="29.76" lengthAdjust="spacingAndGlyphs" transform="rotate(45 589.90 81.18)" stroke="#000" stroke-width="0.15">Busyness</text>
<text x="602.70" y="81.18" font-size="6.62" textLength="36.30" lengthAdjust="spacingAndGlyphs" transform="rotate(45 602.70 81.18)" stroke="#000" stroke-width="0.15">Coarseness</text>
<text x="615.50" y="81.18" font-size="6.62" textLength="35.58" lengthAdjust="spacingAndGlyphs" transform="rotate(45 615.50 81.18)" stroke="#000" stroke-width="0.15">Complexity</text>
<text x="628.30" y="81.18" font-size="6.62" textLength="26.92" lengthAdjust="spacingAndGlyphs" transform="rotate(45 628.30 81.18)" stroke="#000" stroke-width="0.15">Contrast</text>
<text x="641.10" y="81.18" font-size="6.62" textLength="27.25" lengthAdjust="spacingAndGlyphs" transform="rotate(45 641.10 81.18)" stroke="#000" stroke-width="0.15">Strength</text>
<rect x="27.30" y="142.50" width="12.76" height="10.97" fill="url(#hatch)" stroke="#fff" stroke-width="0.9"/>
<rect x="40.06" y="142.50" width="12.76" height="10.97" fill="#0000ef" stroke="#fff" stroke-width="0.9"/>
<rect x="52.83" y="142.50" width="12.76" height="10.97" fill="#ff7d7d" stroke="#fff" stroke-width="0.9"/>
<rect x="65.59" y="142.50" width="12.76" height="10.97" fill="url(#dots)" stroke="#fff" stroke-width="0.9"/>
<rect x="78.35" y="142.50" width="12.76" height="10.97" fill="#d5d5ff" stroke="#fff" stroke-width="0.9"/>
<rect x="91.11" y="142.50" width="12.76" height="10.97" fill="url(#dots)" stroke="#fff" stroke-width="0.9"/>
<rect x="103.87" y="142.50" width="12.76" height="10.97" fill="url(#dots)" stroke="#fff" stroke-width="0.9"/>
<rect x="116.64" y="142.50" width="12.76" height="10.97" fill="url(#dots)" stroke="#fff" stroke-width="0.9"/>
<rect x="129.40" y="142.50" width="12.76" height="10.97" fill="#ff3d3d" stroke="#fff" stroke-width="0.9"/>
<rect x="142.16" y="142.50" width="12.76" height="10.97" fill="url(#hatch)" stroke="#fff" stroke-width="0.9"/>
<rect x="154.93" y="142.50" width="12.76" height="10.97" fill="#fa0000" stroke="#fff" stroke-width="0.9"/>
<rect x="167.69" y="142.50" width="12.76" height="10.97" fill="#ff2121" stroke="#fff" stroke-width="0.9"/>
<rect x="180.45" y="142.50" width="12.76" height="10.97" fill="#fffdfd" stroke="#fff" stroke-width="0.9"/>
<rect x="193.21" y="142.50" width="12.76" height="10.97" fill="#ff1515" stroke="#fff" stroke-width="0.9"/>
<rect x="205.97" y="142.50" width="12.76" height="10.97" fill="url(#dots)" stroke="#fff" stroke-width="0.9"/>
<rect x="218.74" y="142.50" width="12.76" height="10.97" fill="url(#dots)" stroke="#fff" stroke-width="0.9"/>
<rect x="27.30" y="153.47" width="12.76" height="10.97" fill="url(#hatch)" stroke="#fff" stroke-width="0.9"/>
<rect x="40.06" y="153.47" width="12.76" height="10.97" fill="#ff7171" stroke="#fff" stroke-width="0.9"/>
<rect x="52.83" y="153.47" width="12.76" height="10.97" fill="#7979ff" stroke="#fff" stroke-width="0.9"/>
<rect x="65.59" y="153.47" width="12.76" height="10.97" fill="#3939ff" stroke="#fff" stroke-width="0.9"/>
<rect x="78.35" y="153.47" width="12.76" height="10.97" fill="url(#hatch)" stroke="#fff" stroke-width="0.9"/>
<rect x="91.11" y="153.47" width="12.76" height="10.97" fill="url(#hatch)" stroke="#fff" stroke-width="0.9"/>
<rect x="103.87" y="153.47" width="12.76" height="10.97" fill="#f5f5ff" stroke="#fff" stroke-width="0.9"/>
<rect x="116.64" y="153.47" width="12.76" height="10.97" fill="#ff8989" stroke="#fff" stroke-width="0.9"/>
<rect x="129.40" y="153.47" width="12.76" height="10.97" fill="#c5c5ff" stroke="#fff" stroke-width="0.9"/>
<rect x="142.16" y="153.47" width="12.76" height="10.97" fill="url(#hatch)" stroke="#fff" stroke-width="0.9"/>
<rect x="154.93" y="153.47" width="12.76" height="10.97" fill="#0000f4" stroke="#fff" stroke-width="0.9"/>
<rect x="167.69" y="153.47" width="12.76" height="10.97" fill="#7171ff" stroke="#fff" stroke-width="0.9"/>
<rect x="180.45" y="153.47" width="12.76" height="10.97" fill="url(#hatch)" stroke="#fff" stroke-width="0.9"/>
<rect x="193.21" y="153.47" width="12.76" height="10.97" fill="#0d0dff" stroke="#fff" stroke-width="0.9"/>
<rect x="205.97" y="153.47" width="12.76" height="10.97" fill="#8181ff" stroke="#fff" stroke-width="0.9"/>
<rect x="218.74" y="153.47" width="12.76" height="10.97" fill="#ff7979" stroke="#fff" stroke-width="0.9"/>
<rect x="27.30" y="164.44" width="12.76" height="10.97" fill="url(#hatch)" stroke="#fff" stroke-width="0.9"/>
<rect x="40.06" y="164.44" width="12.76" height="10.97" fill="#fffdfd" stroke="#fff" stroke-width="0.9"/>
<rect x="52.83" y="164.44" width="12.76" height="10.97" fill="#ff9999" stroke="#fff" stroke-width="0.9"/>
<rect x="65.59" y="164.44" width="12.76" height="10.97" fill="#adadff" stroke="#fff" stroke-width="0.9"/>
<rect x="78.35" y="164.44" width="12.76" height="10.97" fill="#ff5151" stroke="#fff" stroke-width="0.9"/>
<rect x="91.11" y="164.44" width="12.76" height="10.97" fill="url(#hatch)" stroke="#fff" stroke-width="0.9"/>
<rect x="103.87" y="164.44" width="12.76" height="10.97" fill="url(#dots)" stroke="#fff" stroke-width="0.9"/>
<rect x="116.64" y="164.44" width="12.76" height="10.97" fill="#ff8585" stroke="#fff" stroke-width="0.9"/>
<rect x="129.40" y="164.44" width="12.76" height="10.97" fill="url(#hatch)" stroke="#fff" stroke-width="0.9"/>
<rect x="142.16" y="164.44" width="12.76" height="10.97" fill="url(#hatch)" stroke="#fff" stroke-width="0.9"/>
<rect x="154.93" y="164.44" width="12.76" height="10.97" fill="#c1c1ff" stroke="#fff" stroke-width="0.9"/>
<rect x="167.69" y="164.44" width="12.76" height="10.97" fill="#7979ff" stroke="#fff" stroke-width="0.9"/>
<rect x="180.45" y="164.44" width="12.76" height="10.97" fill="#ff5d5d" stroke="#fff" stroke-width="0.9"/>
<rect x="193.21" y="164.44" width="12.76" height="10.97" fill="#bdbdff" stroke="#fff" stroke-width="0.9"/>
<rect x="205.97" y="164.44" width="12.76" height="10.97" fill="#ddddff" stroke="#fff" stroke-width="0.9"/>
<rect x="218.74" y="164.44" width="12.76" height="10.97" fill="#ff1919" stroke="#fff" stroke-width="0.9"/>
<rect x="27.30" y="175.41" width="12.76" height="10.97" fill="url(#hatch)" stroke="#fff" stroke-width="0.9"/>
<rect x="40.06" y="175.41" width="12.76" height="10.97" fill="#c5c5ff" stroke="#fff" stroke-width="0.9"/>
<rect x="52.83" y="175.41" width="12.76" height="10.97" fill="#ff8989" stroke="#fff" stroke-width="0.9"/>
<rect x="65.59" y="175.41" width="12.76" height="10.97" fill="#e9e9ff" stroke="#fff" stroke-width="0.9"/>
<rect x="78.35" y="175.41" width="12.76" height="10.97" fill="#ffd5d5" stroke="#fff" stroke-width="0.9"/>
<rect x="91.11" y="175.41" width="12.76" height="10.97" fill="#ff8989" stroke="#fff" stroke-width="0.9"/>
<rect x="103.87" y="175.41" width="12.76" height="10.97" fill="url(#dots)" stroke="#fff" stroke-width="0.9"/>
<rect x="116.64" y="175.41" width="12.76" height="10.97" fill="#ffd5d5" stroke="#fff" stroke-width="0.9"/>
<rect x="129.40" y="175.41" width="12.76" height="10.97" fill="url(#hatch)" stroke="#fff" stroke-width="0.9"/>
<rect x="142.16" y="175.41" width="12.76" height="10.97" fill="url(#hatch)" stroke="#fff" stroke-width="0.9"/>
<rect x="154.93" y="175.41" width="12.76" height="10.97" fill="#f5f5ff" stroke="#fff" stroke-width="0.9"/>
<rect x="167.69" y="175.41" width="12.76" height="10.97" fill="#c5c5ff" stroke="#fff" stroke-width="0.9"/>
<rect x="180.45" y="175.41" width="12.76" height="10.97" fill="#ffa9a9" stroke="#fff" stroke-width="0.9"/>
<rect x="193.21" y="175.41" width="12.76" height="10.97" fill="#ddddff" stroke="#fff" stroke-width="0.9"/>
<rect x="205.97" y="175.41" width="12.76" height="10.97" fill="#f5f5ff" stroke="#fff" stroke-width="0.9"/>
<rect x="218.74" y="175.41" width="12.76" height="10.97" fill="#f5f5ff" stroke="#fff" stroke-width="0.9"/>
<rect x="27.30" y="142.50" width="204.20" height="43.88" fill="none" stroke="#8c8c8c" stroke-width="1"/>
<text x="129.40" y="140.00" font-size="7.98" text-anchor="middle" textLength="55.40" lengthAdjust="spacingAndGlyphs" stroke="#000" stroke-width="0.15">GLRLM (n=16)</text>
<text x="30.48" y="190.38" font-size="6.62" textLength="46.96" lengthAdjust="spacingAndGlyphs" transform="rotate(45 30.48 190.38)" stroke="#000" stroke-width="0.15">GrayLvlNonUni</text>
<text x="43.24" y="190.38" font-size="6.62" textLength="64.15" lengthAdjust="spacingAndGlyphs" transform="rotate(45 43.24 190.38)" stroke="#000" stroke-width="0.15">GrayLvlNonUniNorm</text>
<text x="56.01" y="190.38" font-size="6.62" textLength="34.32" lengthAdjust="spacingAndGlyphs" transform="rotate(45 56.01 190.38)" stroke="#000" stroke-width="0.15">GrayLvlVar</text>
<text x="68.77" y="190.38" font-size="6.62" textLength="64.73" lengthAdjust="spacingAndGlyphs" transform="rotate(45 68.77 190.38)" stroke="#000" stroke-width="0.15">HighGrayLvlRunEmp</text>
<text x="81.53" y="190.38" font-size="6.62" textLength="41.44" lengthAdjust="spacingAndGlyphs" transform="rotate(45 81.53 190.38)" stroke="#000" stroke-width="0.15">LongRunEmp</text>
<text x="94.29" y="190.38" font-size="6.62" textLength="79.97" lengthAdjust="spacingAndGlyphs" transform="rotate(45 94.29 190.38)" stroke="#000" stroke-width="0.15">LongRunHighGrayLvlEmp</text>
<text x="107.06" y="190.38" font-size="6.62" textLength="77.90" lengthAdjust="spacingAndGlyphs" transform="rotate(45 107.06 190.38)" stroke="#000" stroke-width="0.15">LongRunLowGrayLvlEmp</text>
<text x="119.82" y="190.38" font-size="6.62" textLength="62.65" lengthAdjust="spacingAndGlyphs" transform="rotate(45 119.82 190.38)" stroke="#000" stroke-width="0.15">LowGrayLvlRunEmp</text>
<text x="132.58" y="190.38" font-size="6.62" textLength="36.56" lengthAdjust="spacingAndGlyphs" transform="rotate(45 132.58 190.38)" stroke="#000" stroke-width="0.15">RunEntropy</text>
<text x="145.34" y="190.38" font-size="6.62" textLength="56.72" lengthAdjust="spacingAndGlyphs" transform="rotate(45 145.34 190.38)" stroke="#000" stroke-width="0.15">RunLengthNonUni</text>
<text x="158.11" y="190.38" font-size="6.62" textLength="73.91" lengthAdjust="spacingAndGlyphs" transform="rotate(45 158.11 190.38)" stroke="#000" stroke-width="0.15">RunLengthNonUniNorm</text>
<text x="170.87" y="190.38" font-size="6.62" textLength="47.52" lengthAdjust="spacingAndGlyphs" transform="rotate(45 170.87 190.38)" stroke="#000" stroke-width="0.15">RunPercentage</text>
<text x="183.63" y="190.38" font-size="6.62" textLength="22.35" lengthAdjust="spacingAndGlyphs" transform="rotate(45 183.63 190.38)" stroke="#000" stroke-width="0.15">RunVar</text>
<text x="196.39" y="190.38" font-size="6.62" textLength="43.10" lengthAdjust="spacingAndGlyphs" transform="rotate(45 196.39 190.38)" stroke="#000" stroke-width="0.15">ShortRunEmp</text>
<text x="209.16" y="190.38" font-size="6.62" textLength="81.63" lengthAdjust="spacingAndGlyphs" transform="rotate(45 209.16 190.38)" stroke="#000" stroke-width="0.15">ShortRunHighGrayLvlEmp</text>
<text x="221.92" y="190.38" font-size="6.62" textLength="79.56" lengthAdjust="spacingAndGlyphs" transform="rotate(45 221.92 190.38)" stroke="#000" stroke-width="0.15">ShortRunLowGrayLvlEmp</text>
<text x="2.70" y="153.79" font-size="6.30" textLength="23.48" lengthAdjust="spacingAndGlyphs" stroke="#000" stroke-width="0.15">Original</text>
<text x="2.70" y="164.76" font-size="6.30" textLength="17.54" lengthAdjust="spacingAndGlyphs" stroke="#000" stroke-width="0.15">LoG-1</text>
<text x="2.70" y="175.73" font-size="6.30" textLength="17.54" lengthAdjust="spacingAndGlyphs" stroke="#000" stroke-width="0.15">LoG-2</text>
<text x="2.70" y="186.70" font-size="6.30" textLength="17.54" lengthAdjust="spacingAndGlyphs" stroke="#000" stroke-width="0.15">LoG-3</text>
<rect x="243.40" y="142.50" width="12.76" height="10.97" fill="url(#hatch)" stroke="#fff" stroke-width="0.9"/>
<rect x="256.16" y="142.50" width="12.76" height="10.97" fill="#a9a9ff" stroke="#fff" stroke-width="0.9"/>
<rect x="268.93" y="142.50" width="12.76" height="10.97" fill="url(#dots)" stroke="#fff" stroke-width="0.9"/>
<rect x="281.69" y="142.50" width="12.76" height="10.97" fill="url(#dots)" stroke="#fff" stroke-width="0.9"/>
<rect x="294.45" y="142.50" width="12.76" height="10.97" fill="url(#hatch)" stroke="#fff" stroke-width="0.9"/>
<rect x="307.21" y="142.50" width="12.76" height="10.97" fill="url(#hatch)" stroke="#fff" stroke-width="0.9"/>
<rect x="319.98" y="142.50" width="12.76" height="10.97" fill="#e1e1ff" stroke="#fff" stroke-width="0.9"/>
<rect x="332.74" y="142.50" width="12.76" height="10.97" fill="url(#dots)" stroke="#fff" stroke-width="0.9"/>
<rect x="345.50" y="142.50" width="12.76" height="10.97" fill="#ff5d5d" stroke="#fff" stroke-width="0.9"/>
<rect x="358.26" y="142.50" width="12.76" height="10.97" fill="url(#dots)" stroke="#fff" stroke-width="0.9"/>
<rect x="371.03" y="142.50" width="12.76" height="10.97" fill="url(#dots)" stroke="#fff" stroke-width="0.9"/>
<rect x="383.79" y="142.50" width="12.76" height="10.97" fill="url(#dots)" stroke="#fff" stroke-width="0.9"/>
<rect x="396.55" y="142.50" width="12.76" height="10.97" fill="url(#dots)" stroke="#fff" stroke-width="0.9"/>
<rect x="409.31" y="142.50" width="12.76" height="10.97" fill="#ff9d9d" stroke="#fff" stroke-width="0.9"/>
<rect x="422.08" y="142.50" width="12.76" height="10.97" fill="#ff5555" stroke="#fff" stroke-width="0.9"/>
<rect x="434.84" y="142.50" width="12.76" height="10.97" fill="url(#hatch)" stroke="#fff" stroke-width="0.9"/>
<rect x="243.40" y="153.47" width="12.76" height="10.97" fill="#1d1dff" stroke="#fff" stroke-width="0.9"/>
<rect x="256.16" y="153.47" width="12.76" height="10.97" fill="#a1a1ff" stroke="#fff" stroke-width="0.9"/>
<rect x="268.93" y="153.47" width="12.76" height="10.97" fill="#ff7171" stroke="#fff" stroke-width="0.9"/>
<rect x="281.69" y="153.47" width="12.76" height="10.97" fill="#fff9f9" stroke="#fff" stroke-width="0.9"/>
<rect x="294.45" y="153.47" width="12.76" height="10.97" fill="url(#hatch)" stroke="#fff" stroke-width="0.9"/>
<rect x="307.21" y="153.47" width="12.76" height="10.97" fill="url(#hatch)" stroke="#fff" stroke-width="0.9"/>
<rect x="319.98" y="153.47" width="12.76" height="10.97" fill="#ff6161" stroke="#fff" stroke-width="0.9"/>
<rect x="332.74" y="153.47" width="12.76" height="10.97" fill="#ff7171" stroke="#fff" stroke-width="0.9"/>
<rect x="345.50" y="153.47" width="12.76" height="10.97" fill="url(#hatch)" stroke="#fff" stroke-width="0.9"/>
<rect x="358.26" y="153.47" width="12.76" height="10.97" fill="#ddddff" stroke="#fff" stroke-width="0.9"/>
<rect x="371.03" y="153.47" width="12.76" height="10.97" fill="#e1e1ff" stroke="#fff" stroke-width="0.9"/>
<rect x="383.79" y="153.47" width="12.76" height="10.97" fill="#ddddff" stroke="#fff" stroke-width="0.9"/>
<rect x="396.55" y="153.47" width="12.76" height="10.97" fill="url(#dots)" stroke="#fff" stroke-width="0.9"/>
<rect x="409.31" y="153.47" width="12.76" height="10.97" fill="#ffa9a9" stroke="#fff" stroke-width="0.9"/>
<rect x="422.08" y="153.47" width="12.76" height="10.97" fill="#c1c1ff" stroke="#fff" stroke-width="0.9"/>
<rect x="434.84" y="153.47" width="12.76" height="10.97" fill="url(#hatch)" stroke="#fff" stroke-width="0.9"/>
<rect x="243.40" y="164.44" width="12.76" height="10.97" fill="#000076" stroke="#fff" stroke-width="0.9"/>
<rect x="256.16" y="164.44" width="12.76" height="10.97" fill="#fff1f1" stroke="#fff" stroke-width="0.9"/>
<rect x="268.93" y="164.44" width="12.76" height="10.97" fill="#fff5f5" stroke="#fff" stroke-width="0.9"/>
<rect x="281.69" y="164.44" width="12.76" height="10.97" fill="#ffe9e9" stroke="#fff" stroke-width="0.9"/>
<rect x="294.45" y="164.44" width="12.76" height="10.97" fill="url(#hatch)" stroke="#fff" stroke-width="0.9"/>
<rect x="307.21" y="164.44" width="12.76" height="10.97" fill="url(#hatch)" stroke="#fff" stroke-width="0.9"/>
<rect x="319.98" y="164.44" width="12.76" height="10.97" fill="#ff2929" stroke="#fff" stroke-width="0.9"/>
<rect x="332.74" y="164.44" width="12.76" height="10.97" fill="#ff8989" stroke="#fff" stroke-width="0.9"/>
<rect x="345.50" y="164.44" width="12.76" height="10.97" fill="url(#hatch)" stroke="#fff" stroke-width="0.9"/>
<rect x="358.26" y="164.44" width="12.76" height="10.97" fill="#ff8989" stroke="#fff" stroke-width="0.9"/>
<rect x="371.03" y="164.44" width="12.76" height="10.97" fill="#ff7575" stroke="#fff" stroke-width="0.9"/>
<rect x="383.79" y="164.44" width="12.76" height="10.97" fill="#e9e9ff" stroke="#fff" stroke-width="0.9"/>
<rect x="396.55" y="164.44" width="12.76" height="10.97" fill="url(#dots)" stroke="#fff" stroke-width="0.9"/>
<rect x="409.31" y="164.44" width="12.76" height="10.97" fill="#cdcdff" stroke="#fff" stroke-width="0.9"/>
<rect x="422.08" y="164.44" width="12.76" height="10.97" fill="#1d1dff" stroke="#fff" stroke-width="0.9"/>
<rect x="434.84" y="164.44" width="12.76" height="10.97" fill="url(#hatch)" stroke="#fff" stroke-width="0.9"/>
<rect x="243.40" y="175.41" width="12.76" height="10.97" fill="#1d1dff" stroke="#fff" stroke-width="0.9"/>
<rect x="256.16" y="175.41" width="12.76" height="10.97" fill="url(#dots)" stroke="#fff" stroke-width="0.9"/>
<rect x="268.93" y="175.41" width="12.76" height="10.97" fill="#ffdddd" stroke="#fff" stroke-width="0.9"/>
<rect x="281.69" y="175.41" width="12.76" height="10.97" fill="#ddddff" stroke="#fff" stroke-width="0.9"/>
<rect x="294.45" y="175.41" width="12.76" height="10.97" fill="url(#hatch)" stroke="#fff" stroke-width="0.9"/>
<rect x="307.21" y="175.41" width="12.76" height="10.97" fill="url(#hatch)" stroke="#fff" stroke-width="0.9"/>
<rect x="319.98" y="175.41" width="12.76" height="10.97" fill="#ffdddd" stroke="#fff" stroke-width="0.9"/>
<rect x="332.74" y="175.41" width="12.76" height="10.97" fill="#ff9d9d" stroke="#fff" stroke-width="0.9"/>
<rect x="345.50" y="175.41" width="12.76" height="10.97" fill="url(#hatch)" stroke="#fff" stroke-width="0.9"/>
<rect x="358.26" y="175.41" width="12.76" height="10.97" fill="#0000d6" stroke="#fff" stroke-width="0.9"/>
<rect x="371.03" y="175.41" width="12.76" height="10.97" fill="#0000ef" stroke="#fff" stroke-width="0.9"/>
<rect x="383.79" y="175.41" width="12.76" height="10.97" fill="#7979ff" stroke="#fff" stroke-width="0.9"/>
<rect x="396.55" y="175.41" width="12.76" height="10.97" fill="url(#dots)" stroke="#fff" stroke-width="0.9"/>
<rect x="409.31" y="175.41" width="12.76" height="10.97" fill="#ffe9e9" stroke="#fff" stroke-width="0.9"/>
<rect x="422.08" y="175.41" width="12.76" height="10.97" fill="#00009e" stroke="#fff" stroke-width="0.9"/>
<rect x="434.84" y="175.41" width="12.76" height="10.97" fill="url(#hatch)" stroke="#fff" stroke-width="0.9"/>
<rect x="243.40" y="142.50" width="204.20" height="43.88" fill="none" stroke="#8c8c8c" stroke-width="1"/>
<text x="345.50" y="140.00" font-size="7.98" text-anchor="middle" textLength="55.91" lengthAdjust="spacingAndGlyphs" stroke="#000" stroke-width="0.15">GLSZM (n=16)</text>
<text x="246.58" y="190.38" font-size="6.62" textLength="46.96" lengthAdjust="spacingAndGlyphs" transform="rotate(45 246.58 190.38)" stroke="#000" stroke-width="0.15">GrayLvlNonUni</text>
<text x="259.34" y="190.38" font-size="6.62" textLength="64.15" lengthAdjust="spacingAndGlyphs" transform="rotate(45 259.34 190.38)" stroke="#000" stroke-width="0.15">GrayLvlNonUniNorm</text>
<text x="272.11" y="190.38" font-size="6.62" textLength="34.32" lengthAdjust="spacingAndGlyphs" transform="rotate(45 272.11 190.38)" stroke="#000" stroke-width="0.15">GrayLvlVar</text>
<text x="284.87" y="190.38" font-size="6.62" textLength="68.68" lengthAdjust="spacingAndGlyphs" transform="rotate(45 284.87 190.38)" stroke="#000" stroke-width="0.15">HighGrayLvlZoneEmp</text>
<text x="297.63" y="190.38" font-size="6.62" textLength="46.34" lengthAdjust="spacingAndGlyphs" transform="rotate(45 297.63 190.38)" stroke="#000" stroke-width="0.15">LargeAreaEmp</text>
<text x="310.39" y="190.38" font-size="6.62" textLength="84.87" lengthAdjust="spacingAndGlyphs" transform="rotate(45 310.39 190.38)" stroke="#000" stroke-width="0.15">LargeAreaHighGrayLvlEmp</text>
<text x="323.16" y="190.38" font-size="6.62" textLength="82.80" lengthAdjust="spacingAndGlyphs" transform="rotate(45 323.16 190.38)" stroke="#000" stroke-width="0.15">LargeAreaLowGrayLvlEmp</text>
<text x="335.92" y="190.38" font-size="6.62" textLength="66.61" lengthAdjust="spacingAndGlyphs" transform="rotate(45 335.92 190.38)" stroke="#000" stroke-width="0.15">LowGrayLvlZoneEmp</text>
<text x="348.68" y="190.38" font-size="6.62" textLength="51.89" lengthAdjust="spacingAndGlyphs" transform="rotate(45 348.68 190.38)" stroke="#000" stroke-width="0.15">SizeZoneNonUni</text>
<text x="361.44" y="190.38" font-size="6.62" textLength="69.07" lengthAdjust="spacingAndGlyphs" transform="rotate(45 361.44 190.38)" stroke="#000" stroke-width="0.15">SizeZoneNonUniNorm</text>
<text x="374.21" y="190.38" font-size="6.62" textLength="46.11" lengthAdjust="spacingAndGlyphs" transform="rotate(45 374.21 190.38)" stroke="#000" stroke-width="0.15">SmallAreaEmp</text>
<text x="386.97" y="190.38" font-size="6.62" textLength="84.64" lengthAdjust="spacingAndGlyphs" transform="rotate(45 386.97 190.38)" stroke="#000" stroke-width="0.15">SmallAreaHighGrayLvlEmp</text>
<text x="399.73" y="190.38" font-size="6.62" textLength="82.57" lengthAdjust="spacingAndGlyphs" transform="rotate(45 399.73 190.38)" stroke="#000" stroke-width="0.15">SmallAreaLowGrayLvlEmp</text>
<text x="412.49" y="190.38" font-size="6.62" textLength="40.52" lengthAdjust="spacingAndGlyphs" transform="rotate(45 412.49 190.38)" stroke="#000" stroke-width="0.15">ZoneEntropy</text>
<text x="425.26" y="190.38" font-size="6.62" textLength="51.48" lengthAdjust="spacingAndGlyphs" transform="rotate(45 425.26 190.38)" stroke="#000" stroke-width="0.15">ZonePercentage</text>
<text x="438.02" y="190.38" font-size="6.62" textLength="26.31" lengthAdjust="spacingAndGlyphs" transform="rotate(45 438.02 190.38)" stroke="#000" stroke-width="0.15">ZoneVar</text>
<rect x="459.50" y="142.50" width="12.73" height="10.97" fill="#ff1515" stroke="#fff" stroke-width="0.9"/>
<rect x="472.23" y="142.50" width="12.73" height="10.97" fill="url(#hatch)" stroke="#fff" stroke-width="0.9"/>
<rect x="484.96" y="142.50" width="12.73" height="10.97" fill="#ff6565" stroke="#fff" stroke-width="0.9"/>
<rect x="497.69" y="142.50" width="12.73" height="10.97" fill="#d5d5ff" stroke="#fff" stroke-width="0.9"/>
<rect x="510.41" y="142.50" width="12.73" height="10.97" fill="url(#hatch)" stroke="#fff" stroke-width="0.9"/>
<rect x="523.14" y="142.50" width="12.73" height="10.97" fill="#ff6565" stroke="#fff" stroke-width="0.9"/>
<rect x="535.87" y="142.50" width="12.73" height="10.97" fill="url(#dots)" stroke="#fff" stroke-width="0.9"/>
<rect x="548.60" y="142.50" width="12.73" height="10.97" fill="#8585ff" stroke="#fff" stroke-width="0.9"/>
<rect x="561.33" y="142.50" width="12.73" height="10.97" fill="url(#dots)" stroke="#fff" stroke-width="0.9"/>
<rect x="574.06" y="142.50" width="12.73" height="10.97" fill="url(#dots)" stroke="#fff" stroke-width="0.9"/>
<rect x="586.79" y="142.50" width="12.73" height="10.97" fill="url(#dots)" stroke="#fff" stroke-width="0.9"/>
<rect x="599.51" y="142.50" width="12.73" height="10.97" fill="#ff0505" stroke="#fff" stroke-width="0.9"/>
<rect x="612.24" y="142.50" width="12.73" height="10.97" fill="url(#dots)" stroke="#fff" stroke-width="0.9"/>
<rect x="624.97" y="142.50" width="12.73" height="10.97" fill="url(#dots)" stroke="#fff" stroke-width="0.9"/>
<rect x="459.50" y="153.47" width="12.73" height="10.97" fill="#ff4545" stroke="#fff" stroke-width="0.9"/>
<rect x="472.23" y="153.47" width="12.73" height="10.97" fill="url(#hatch)" stroke="#fff" stroke-width="0.9"/>
<rect x="484.96" y="153.47" width="12.73" height="10.97" fill="#c5c5ff" stroke="#fff" stroke-width="0.9"/>
<rect x="497.69" y="153.47" width="12.73" height="10.97" fill="url(#hatch)" stroke="#fff" stroke-width="0.9"/>
<rect x="510.41" y="153.47" width="12.73" height="10.97" fill="url(#hatch)" stroke="#fff" stroke-width="0.9"/>
<rect x="523.14" y="153.47" width="12.73" height="10.97" fill="#7979ff" stroke="#fff" stroke-width="0.9"/>
<rect x="535.87" y="153.47" width="12.73" height="10.97" fill="#0000db" stroke="#fff" stroke-width="0.9"/>
<rect x="548.60" y="153.47" width="12.73" height="10.97" fill="url(#hatch)" stroke="#fff" stroke-width="0.9"/>
<rect x="561.33" y="153.47" width="12.73" height="10.97" fill="url(#hatch)" stroke="#fff" stroke-width="0.9"/>
<rect x="574.06" y="153.47" width="12.73" height="10.97" fill="#ffbdbd" stroke="#fff" stroke-width="0.9"/>
<rect x="586.79" y="153.47" width="12.73" height="10.97" fill="#ff6161" stroke="#fff" stroke-width="0.9"/>
<rect x="599.51" y="153.47" width="12.73" height="10.97" fill="#4545ff" stroke="#fff" stroke-width="0.9"/>
<rect x="612.24" y="153.47" width="12.73" height="10.97" fill="#8585ff" stroke="#fff" stroke-width="0.9"/>
<rect x="624.97" y="153.47" width="12.73" height="10.97" fill="#f80000" stroke="#fff" stroke-width="0.9"/>
<rect x="459.50" y="164.44" width="12.73" height="10.97" fill="url(#hatch)" stroke="#fff" stroke-width="0.9"/>
<rect x="472.23" y="164.44" width="12.73" height="10.97" fill="url(#hatch)" stroke="#fff" stroke-width="0.9"/>
<rect x="484.96" y="164.44" width="12.73" height="10.97" fill="#3d3dff" stroke="#fff" stroke-width="0.9"/>
<rect x="497.69" y="164.44" width="12.73" height="10.97" fill="#ff4d4d" stroke="#fff" stroke-width="0.9"/>
<rect x="510.41" y="164.44" width="12.73" height="10.97" fill="url(#hatch)" stroke="#fff" stroke-width="0.9"/>
<rect x="523.14" y="164.44" width="12.73" height="10.97" fill="#ffc5c5" stroke="#fff" stroke-width="0.9"/>
<rect x="535.87" y="164.44" width="12.73" height="10.97" fill="#7979ff" stroke="#fff" stroke-width="0.9"/>
<rect x="548.60" y="164.44" width="12.73" height="10.97" fill="#ff3d3d" stroke="#fff" stroke-width="0.9"/>
<rect x="561.33" y="164.44" width="12.73" height="10.97" fill="url(#hatch)" stroke="#fff" stroke-width="0.9"/>
<rect x="574.06" y="164.44" width="12.73" height="10.97" fill="#ffd5d5" stroke="#fff" stroke-width="0.9"/>
<rect x="586.79" y="164.44" width="12.73" height="10.97" fill="#ff9999" stroke="#fff" stroke-width="0.9"/>
<rect x="599.51" y="164.44" width="12.73" height="10.97" fill="#ffdddd" stroke="#fff" stroke-width="0.9"/>
<rect x="612.24" y="164.44" width="12.73" height="10.97" fill="#e1e1ff" stroke="#fff" stroke-width="0.9"/>
<rect x="624.97" y="164.44" width="12.73" height="10.97" fill="#f80000" stroke="#fff" stroke-width="0.9"/>
<rect x="459.50" y="175.41" width="12.73" height="10.97" fill="url(#hatch)" stroke="#fff" stroke-width="0.9"/>
<rect x="472.23" y="175.41" width="12.73" height="10.97" fill="url(#hatch)" stroke="#fff" stroke-width="0.9"/>
<rect x="484.96" y="175.41" width="12.73" height="10.97" fill="#ff7d7d" stroke="#fff" stroke-width="0.9"/>
<rect x="497.69" y="175.41" width="12.73" height="10.97" fill="#ff7d7d" stroke="#fff" stroke-width="0.9"/>
<rect x="510.41" y="175.41" width="12.73" height="10.97" fill="url(#hatch)" stroke="#fff" stroke-width="0.9"/>
<rect x="523.14" y="175.41" width="12.73" height="10.97" fill="#ffa9a9" stroke="#fff" stroke-width="0.9"/>
<rect x="535.87" y="175.41" width="12.73" height="10.97" fill="#f1f1ff" stroke="#fff" stroke-width="0.9"/>
<rect x="548.60" y="175.41" width="12.73" height="10.97" fill="#ffd1d1" stroke="#fff" stroke-width="0.9"/>
<rect x="561.33" y="175.41" width="12.73" height="10.97" fill="#a9a9ff" stroke="#fff" stroke-width="0.9"/>
<rect x="574.06" y="175.41" width="12.73" height="10.97" fill="#f9f9ff" stroke="#fff" stroke-width="0.9"/>
<rect x="586.79" y="175.41" width="12.73" height="10.97" fill="#fff5f5" stroke="#fff" stroke-width="0.9"/>
<rect x="599.51" y="175.41" width="12.73" height="10.97" fill="#f1f1ff" stroke="#fff" stroke-width="0.9"/>
<rect x="612.24" y="175.41" width="12.73" height="10.97" fill="#f9f9ff" stroke="#fff" stroke-width="0.9"/>
<rect x="624.97" y="175.41" width="12.73" height="10.97" fill="#ffd5d5" stroke="#fff" stroke-width="0.9"/>
<rect x="459.50" y="142.50" width="178.20" height="43.88" fill="none" stroke="#8c8c8c" stroke-width="1"/>
<text x="548.60" y="140.00" font-size="7.98" text-anchor="middle" textLength="51.73" lengthAdjust="spacingAndGlyphs" stroke="#000" stroke-width="0.15">GLDM (n=14)</text>
<text x="462.66" y="190.38" font-size="6.62" textLength="37.20" lengthAdjust="spacingAndGlyphs" transform="rotate(45 462.66 190.38)" stroke="#000" stroke-width="0.15">DepEntropy</text>
<text x="475.39" y="190.38" font-size="6.62" textLength="35.64" lengthAdjust="spacingAndGlyphs" transform="rotate(45 475.39 190.38)" stroke="#000" stroke-width="0.15">DepNonUni</text>
<text x="488.12" y="190.38" font-size="6.62" textLength="52.82" lengthAdjust="spacingAndGlyphs" transform="rotate(45 488.12 190.38)" stroke="#000" stroke-width="0.15">DepNonUniNorm</text>
<text x="500.85" y="190.38" font-size="6.62" textLength="23.00" lengthAdjust="spacingAndGlyphs" transform="rotate(45 500.85 190.38)" stroke="#000" stroke-width="0.15">DepVar</text>
<text x="513.58" y="190.38" font-size="6.62" textLength="46.96" lengthAdjust="spacingAndGlyphs" transform="rotate(45 513.58 190.38)" stroke="#000" stroke-width="0.15">GrayLvlNonUni</text>
<text x="526.31" y="190.38" font-size="6.62" textLength="34.32" lengthAdjust="spacingAndGlyphs" transform="rotate(45 526.31 190.38)" stroke="#000" stroke-width="0.15">GrayLvlVar</text>
<text x="539.04" y="190.38" font-size="6.62" textLength="52.65" lengthAdjust="spacingAndGlyphs" transform="rotate(45 539.04 190.38)" stroke="#000" stroke-width="0.15">HighGrayLvlEmp</text>
<text x="551.76" y="190.38" font-size="6.62" textLength="44.57" lengthAdjust="spacingAndGlyphs" transform="rotate(45 551.76 190.38)" stroke="#000" stroke-width="0.15">LargeDepEmp</text>
<text x="564.49" y="190.38" font-size="6.62" textLength="83.10" lengthAdjust="spacingAndGlyphs" transform="rotate(45 564.49 190.38)" stroke="#000" stroke-width="0.15">LargeDepHighGrayLvlEmp</text>
<text x="577.22" y="190.38" font-size="6.62" textLength="81.02" lengthAdjust="spacingAndGlyphs" transform="rotate(45 577.22 190.38)" stroke="#000" stroke-width="0.15">LargeDepLowGrayLvlEmp</text>
<text x="589.95" y="190.38" font-size="6.62" textLength="50.57" lengthAdjust="spacingAndGlyphs" transform="rotate(45 589.95 190.38)" stroke="#000" stroke-width="0.15">LowGrayLvlEmp</text>
<text x="602.68" y="190.38" font-size="6.62" textLength="44.34" lengthAdjust="spacingAndGlyphs" transform="rotate(45 602.68 190.38)" stroke="#000" stroke-width="0.15">SmallDepEmp</text>
<text x="615.41" y="190.38" font-size="6.62" textLength="82.87" lengthAdjust="spacingAndGlyphs" transform="rotate(45 615.41 190.38)" stroke="#000" stroke-width="0.15">SmallDepHighGrayLvlEmp</text>
<text x="628.14" y="190.38" font-size="6.62" textLength="80.80" lengthAdjust="spacingAndGlyphs" transform="rotate(45 628.14 190.38)" stroke="#000" stroke-width="0.15">SmallDepLowGrayLvlEmp</text>
<defs><linearGradient id="cbar" x1="0" y1="1" x2="0" y2="0">
<stop offset="0" stop-color="#00004d"/><stop offset="0.25" stop-color="#0000ff"/><stop offset="0.5" stop-color="#ffffff"/><stop offset="0.75" stop-color="#ff0000"/><stop offset="1" stop-color="#800000"/></linearGradient></defs>
<rect x="645.9" y="142.7" width="10.1" height="43.2" fill="url(#cbar)"/>
<line x1="656" y1="142.9" x2="658" y2="142.9" stroke="#000" stroke-width="0.6"/>
<text x="658.20" y="144.50" font-size="6.51" textLength="24.32" lengthAdjust="spacingAndGlyphs" stroke="#000" stroke-width="0.15">positive</text>
<line x1="656" y1="164.3" x2="658" y2="164.3" stroke="#000" stroke-width="0.6"/>
<text x="658.20" y="165.90" font-size="6.51" textLength="27.43" lengthAdjust="spacingAndGlyphs" stroke="#000" stroke-width="0.15">no effect</text>
<line x1="656" y1="185.5" x2="658" y2="185.5" stroke="#000" stroke-width="0.6"/>
<text x="658.20" y="187.10" font-size="6.51" textLength="27.12" lengthAdjust="spacingAndGlyphs" stroke="#000" stroke-width="0.15">negative</text>
<text x="645.50" y="139.20" font-size="7.14" textLength="15.07" lengthAdjust="spacingAndGlyphs" stroke="#000" stroke-width="0.15">HRD</text>
<text x="645.50" y="194.60" font-size="7.14" textLength="13.94" lengthAdjust="spacingAndGlyphs" stroke="#000" stroke-width="0.15">HRP</text>
<text x="316.30" y="271.00" font-size="15.50" font-weight="bold">c</text>
<line x1="447.4" y1="292.80" x2="543.3" y2="292.80" stroke="#ebebeb" stroke-width="0.5"/>
<line x1="447.4" y1="304.77" x2="543.3" y2="304.77" stroke="#ebebeb" stroke-width="0.5"/>
<line x1="447.4" y1="316.74" x2="543.3" y2="316.74" stroke="#ebebeb" stroke-width="0.5"/>
<line x1="447.4" y1="328.71" x2="543.3" y2="328.71" stroke="#ebebeb" stroke-width="0.5"/>
<line x1="447.4" y1="340.68" x2="543.3" y2="340.68" stroke="#ebebeb" stroke-width="0.5"/>
<line x1="447.4" y1="352.65" x2="543.3" y2="352.65" stroke="#ebebeb" stroke-width="0.5"/>
<line x1="447.4" y1="364.62" x2="543.3" y2="364.62" stroke="#ebebeb" stroke-width="0.5"/>
<line x1="447.4" y1="376.59" x2="543.3" y2="376.59" stroke="#ebebeb" stroke-width="0.5"/>
<line x1="447.4" y1="388.56" x2="543.3" y2="388.56" stroke="#ebebeb" stroke-width="0.5"/>
<line x1="447.4" y1="400.53" x2="543.3" y2="400.53" stroke="#ebebeb" stroke-width="0.5"/>
<line x1="447.4" y1="412.50" x2="543.3" y2="412.50" stroke="#ebebeb" stroke-width="0.5"/>
<line x1="447.4" y1="424.47" x2="543.3" y2="424.47" stroke="#ebebeb" stroke-width="0.5"/>
<rect x="495.30" y="288.00" width="43.70" height="9.6" fill="#87ceeb"/>
<rect x="495.30" y="299.97" width="16.17" height="9.6" fill="#87ceeb"/>
<rect x="495.30" y="311.94" width="24.91" height="9.6" fill="#87ceeb"/>
<rect x="488.31" y="323.91" width="6.99" height="9.6" fill="#87ceeb"/>
<rect x="495.30" y="335.88" width="43.70" height="9.6" fill="#87ceeb"/>
<rect x="495.30" y="347.85" width="22.72" height="9.6" fill="#87ceeb"/>
<rect x="495.30" y="359.82" width="22.29" height="9.6" fill="#87ceeb"/>
<rect x="495.30" y="371.79" width="21.85" height="9.6" fill="#87ceeb"/>
<rect x="495.30" y="383.76" width="38.89" height="9.6" fill="#87ceeb"/>
<rect x="473.01" y="395.73" width="22.29" height="9.6" fill="#87ceeb"/>
<rect x="490.93" y="407.70" width="4.37" height="9.6" fill="#87ceeb"/>
<rect x="490.49" y="419.67" width="4.81" height="9.6" fill="#87ceeb"/>
<rect x="447.4" y="280.7" width="95.90" height="154.90" fill="none" stroke="#222" stroke-width="0.8"/>
<line x1="444.30" y1="292.80" x2="447.4" y2="292.80" stroke="#222" stroke-width="0.7"/>
<line x1="444.30" y1="304.77" x2="447.4" y2="304.77" stroke="#222" stroke-width="0.7"/>
<line x1="444.30" y1="316.74" x2="447.4" y2="316.74" stroke="#222" stroke-width="0.7"/>
<line x1="444.30" y1="328.71" x2="447.4" y2="328.71" stroke="#222" stroke-width="0.7"/>
<line x1="444.30" y1="340.68" x2="447.4" y2="340.68" stroke="#222" stroke-width="0.7"/>
<line x1="444.30" y1="352.65" x2="447.4" y2="352.65" stroke="#222" stroke-width="0.7"/>
<line x1="444.30" y1="364.62" x2="447.4" y2="364.62" stroke="#222" stroke-width="0.7"/>
<line x1="444.30" y1="376.59" x2="447.4" y2="376.59" stroke="#222" stroke-width="0.7"/>
<line x1="444.30" y1="388.56" x2="447.4" y2="388.56" stroke="#222" stroke-width="0.7"/>
<line x1="444.30" y1="400.53" x2="447.4" y2="400.53" stroke="#222" stroke-width="0.7"/>
<line x1="444.30" y1="412.50" x2="447.4" y2="412.50" stroke="#222" stroke-width="0.7"/>
<line x1="444.30" y1="424.47" x2="447.4" y2="424.47" stroke="#222" stroke-width="0.7"/>
<line x1="451.60" y1="435.6" x2="451.60" y2="438.70000000000005" stroke="#222" stroke-width="0.7"/>
<text x="451.60" y="445.90" font-size="6.83" text-anchor="middle" textLength="14.81" lengthAdjust="spacingAndGlyphs" stroke="#000" stroke-width="0.15">−1.0</text>
<line x1="473.45" y1="435.6" x2="473.45" y2="438.70000000000005" stroke="#222" stroke-width="0.7"/>
<text x="473.45" y="445.90" font-size="6.83" text-anchor="middle" textLength="14.81" lengthAdjust="spacingAndGlyphs" stroke="#000" stroke-width="0.15">−0.5</text>
<line x1="495.30" y1="435.6" x2="495.30" y2="438.70000000000005" stroke="#222" stroke-width="0.7"/>
<text x="495.30" y="445.90" font-size="6.83" text-anchor="middle" textLength="9.70" lengthAdjust="spacingAndGlyphs" stroke="#000" stroke-width="0.15">0.0</text>
<line x1="517.15" y1="435.6" x2="517.15" y2="438.70000000000005" stroke="#222" stroke-width="0.7"/>
<text x="517.15" y="445.90" font-size="6.83" text-anchor="middle" textLength="9.70" lengthAdjust="spacingAndGlyphs" stroke="#000" stroke-width="0.15">0.5</text>
<line x1="539.00" y1="435.6" x2="539.00" y2="438.70000000000005" stroke="#222" stroke-width="0.7"/>
<text x="539.00" y="445.90" font-size="6.83" text-anchor="middle" textLength="9.70" lengthAdjust="spacingAndGlyphs" stroke="#000" stroke-width="0.15">1.0</text>
<text x="495.35" y="455.80" font-size="8.19" text-anchor="middle" textLength="20.86" lengthAdjust="spacingAndGlyphs" stroke="#000" stroke-width="0.15">SHAP</text>
<line x1="562.4" y1="292.80" x2="658.7" y2="292.80" stroke="#ebebeb" stroke-width="0.5"/>
<line x1="562.4" y1="304.77" x2="658.7" y2="304.77" stroke="#ebebeb" stroke-width="0.5"/>
<line x1="562.4" y1="316.74" x2="658.7" y2="316.74" stroke="#ebebeb" stroke-width="0.5"/>
<line x1="562.4" y1="328.71" x2="658.7" y2="328.71" stroke="#ebebeb" stroke-width="0.5"/>
<line x1="562.4" y1="340.68" x2="658.7" y2="340.68" stroke="#ebebeb" stroke-width="0.5"/>
<line x1="562.4" y1="352.65" x2="658.7" y2="352.65" stroke="#ebebeb" stroke-width="0.5"/>
<line x1="562.4" y1="364.62" x2="658.7" y2="364.62" stroke="#ebebeb" stroke-width="0.5"/>
<line x1="562.4" y1="376.59" x2="658.7" y2="376.59" stroke="#ebebeb" stroke-width="0.5"/>
<line x1="562.4" y1="388.56" x2="658.7" y2="388.56" stroke="#ebebeb" stroke-width="0.5"/>
<line x1="562.4" y1="400.53" x2="658.7" y2="400.53" stroke="#ebebeb" stroke-width="0.5"/>
<line x1="562.4" y1="412.50" x2="658.7" y2="412.50" stroke="#ebebeb" stroke-width="0.5"/>
<line x1="562.4" y1="424.47" x2="658.7" y2="424.47" stroke="#ebebeb" stroke-width="0.5"/>
<rect x="610.50" y="288.00" width="27.53" height="9.6" fill="#fa8072"/>
<rect x="610.50" y="299.97" width="27.09" height="9.6" fill="#fa8072"/>
<rect x="610.50" y="311.94" width="13.98" height="9.6" fill="#fa8072"/>
<rect x="610.50" y="323.91" width="10.49" height="9.6" fill="#fa8072"/>
<rect x="610.50" y="335.88" width="10.05" height="9.6" fill="#fa8072"/>
<rect x="610.50" y="347.85" width="3.50" height="9.6" fill="#fa8072"/>
<rect x="607.00" y="359.82" width="3.50" height="9.6" fill="#fa8072"/>
<rect x="595.64" y="371.79" width="14.86" height="9.6" fill="#fa8072"/>
<rect x="591.71" y="383.76" width="18.79" height="9.6" fill="#fa8072"/>
<rect x="586.90" y="395.73" width="23.60" height="9.6" fill="#fa8072"/>
<rect x="567.67" y="407.70" width="42.83" height="9.6" fill="#fa8072"/>
<rect x="566.80" y="419.67" width="43.70" height="9.6" fill="#fa8072"/>
<rect x="562.4" y="280.7" width="96.30" height="154.90" fill="none" stroke="#222" stroke-width="0.8"/>
<line x1="559.30" y1="292.80" x2="562.4" y2="292.80" stroke="#222" stroke-width="0.7"/>
<line x1="559.30" y1="304.77" x2="562.4" y2="304.77" stroke="#222" stroke-width="0.7"/>
<line x1="559.30" y1="316.74" x2="562.4" y2="316.74" stroke="#222" stroke-width="0.7"/>
<line x1="559.30" y1="328.71" x2="562.4" y2="328.71" stroke="#222" stroke-width="0.7"/>
<line x1="559.30" y1="340.68" x2="562.4" y2="340.68" stroke="#222" stroke-width="0.7"/>
<line x1="559.30" y1="352.65" x2="562.4" y2="352.65" stroke="#222" stroke-width="0.7"/>
<line x1="559.30" y1="364.62" x2="562.4" y2="364.62" stroke="#222" stroke-width="0.7"/>
<line x1="559.30" y1="376.59" x2="562.4" y2="376.59" stroke="#222" stroke-width="0.7"/>
<line x1="559.30" y1="388.56" x2="562.4" y2="388.56" stroke="#222" stroke-width="0.7"/>
<line x1="559.30" y1="400.53" x2="562.4" y2="400.53" stroke="#222" stroke-width="0.7"/>
<line x1="559.30" y1="412.50" x2="562.4" y2="412.50" stroke="#222" stroke-width="0.7"/>
<line x1="559.30" y1="424.47" x2="562.4" y2="424.47" stroke="#222" stroke-width="0.7"/>
<line x1="566.80" y1="435.6" x2="566.80" y2="438.70000000000005" stroke="#222" stroke-width="0.7"/>
<text x="566.80" y="445.90" font-size="6.83" text-anchor="middle" textLength="14.81" lengthAdjust="spacingAndGlyphs" stroke="#000" stroke-width="0.15">−1.0</text>
<line x1="588.65" y1="435.6" x2="588.65" y2="438.70000000000005" stroke="#222" stroke-width="0.7"/>
<text x="588.65" y="445.90" font-size="6.83" text-anchor="middle" textLength="14.81" lengthAdjust="spacingAndGlyphs" stroke="#000" stroke-width="0.15">−0.5</text>
<line x1="610.50" y1="435.6" x2="610.50" y2="438.70000000000005" stroke="#222" stroke-width="0.7"/>
<text x="610.50" y="445.90" font-size="6.83" text-anchor="middle" textLength="9.70" lengthAdjust="spacingAndGlyphs" stroke="#000" stroke-width="0.15">0.0</text>
<line x1="632.35" y1="435.6" x2="632.35" y2="438.70000000000005" stroke="#222" stroke-width="0.7"/>
<text x="632.35" y="445.90" font-size="6.83" text-anchor="middle" textLength="9.70" lengthAdjust="spacingAndGlyphs" stroke="#000" stroke-width="0.15">0.5</text>
<line x1="654.20" y1="435.6" x2="654.20" y2="438.70000000000005" stroke="#222" stroke-width="0.7"/>
<text x="654.20" y="445.90" font-size="6.83" text-anchor="middle" textLength="9.70" lengthAdjust="spacingAndGlyphs" stroke="#000" stroke-width="0.15">1.0</text>
<text x="610.55" y="455.80" font-size="8.19" text-anchor="middle" textLength="55.27" lengthAdjust="spacingAndGlyphs" stroke="#000" stroke-width="0.15">Normalized Br</text>
<text x="441.90" y="294.95" font-size="6.30" text-anchor="end" textLength="77.68" lengthAdjust="spacingAndGlyphs" stroke="#000" stroke-width="0.15">LoG-1-FirstOrder-10thPerc</text>
<text x="441.90" y="306.92" font-size="6.30" text-anchor="end" textLength="77.68" lengthAdjust="spacingAndGlyphs" stroke="#000" stroke-width="0.15">LoG-1-FirstOrder-90thPerc</text>
<text x="441.90" y="318.89" font-size="6.30" text-anchor="end" textLength="79.53" lengthAdjust="spacingAndGlyphs" stroke="#000" stroke-width="0.15">LoG-3-GLCM-ClusterShade</text>
<text x="441.90" y="330.86" font-size="6.30" text-anchor="end" textLength="75.68" lengthAdjust="spacingAndGlyphs" stroke="#000" stroke-width="0.15">LoG-2-GLRLM-GrayLvlVar</text>
<text x="441.90" y="342.83" font-size="6.30" text-anchor="end" textLength="61.81" lengthAdjust="spacingAndGlyphs" stroke="#000" stroke-width="0.15">LoG-1-FirstOrder-Min</text>
<text x="441.90" y="354.80" font-size="6.30" text-anchor="end" textLength="122.03" lengthAdjust="spacingAndGlyphs" stroke="#000" stroke-width="0.15">LoG-3-GLSZM-LargeAreaLowGrayLvlEmp</text>
<text x="441.90" y="366.77" font-size="6.30" text-anchor="end" textLength="123.79" lengthAdjust="spacingAndGlyphs" stroke="#000" stroke-width="0.15">LoG-1-GLSZM-SmallAreaHighGrayLvlEmp</text>
<text x="441.90" y="378.74" font-size="6.30" text-anchor="end" textLength="123.79" lengthAdjust="spacingAndGlyphs" stroke="#000" stroke-width="0.15">LoG-3-GLSZM-SmallAreaHighGrayLvlEmp</text>
<text x="441.90" y="390.71" font-size="6.30" text-anchor="end" textLength="77.68" lengthAdjust="spacingAndGlyphs" stroke="#000" stroke-width="0.15">LoG-3-FirstOrder-10thPerc</text>
<text x="441.90" y="402.68" font-size="6.30" text-anchor="end" textLength="88.13" lengthAdjust="spacingAndGlyphs" stroke="#000" stroke-width="0.15">LoG-1-GLSZM-GrayLvlNonUni</text>
<text x="441.90" y="414.65" font-size="6.30" text-anchor="end" textLength="88.13" lengthAdjust="spacingAndGlyphs" stroke="#000" stroke-width="0.15">LoG-2-GLSZM-GrayLvlNonUni</text>
<text x="441.90" y="426.62" font-size="6.30" text-anchor="end" textLength="92.59" lengthAdjust="spacingAndGlyphs" stroke="#000" stroke-width="0.15">LoG-3-GLSZM-SizeZoneNonUni</text>
<rect x="461.9" y="264.9" width="7.5" height="7.4" fill="#87ceeb"/>
<text x="476.30" y="271.20" font-size="7.88" textLength="38.50" lengthAdjust="spacingAndGlyphs" stroke="#000" stroke-width="0.15">Radiomics</text>
<rect x="564" y="264.6" width="7.9" height="7.3" fill="#fa8072"/>
<text x="577.00" y="271.00" font-size="7.88" textLength="66.77" lengthAdjust="spacingAndGlyphs" stroke="#000" stroke-width="0.15">Foundation Model</text>
<text x="0.60" y="270.80" font-size="15.50" font-weight="bold">b</text>
<rect x="60.90" y="278.00" width="6.61" height="0.50" fill="#62a0cb" stroke="#1a1a1a" stroke-width="0.45"/>
<rect x="67.51" y="277.80" width="6.61" height="0.70" fill="#ffa556" stroke="#1a1a1a" stroke-width="0.45"/>
<rect x="67.51" y="276.50" width="6.61" height="1.30" fill="#62a0cb" stroke="#1a1a1a" stroke-width="0.45"/>
<rect x="74.12" y="277.50" width="6.61" height="1.00" fill="#62a0cb" stroke="#1a1a1a" stroke-width="0.45"/>
<rect x="80.73" y="277.20" width="6.61" height="1.30" fill="#ffcfa0" stroke="#1a1a1a" stroke-width="0.45"/>
<rect x="80.73" y="274.50" width="6.61" height="2.70" fill="#62a0cb" stroke="#1a1a1a" stroke-width="0.45"/>
<rect x="87.34" y="276.50" width="6.61" height="2.00" fill="#ffcfa0" stroke="#1a1a1a" stroke-width="0.45"/>
<rect x="87.34" y="274.90" width="6.61" height="1.60" fill="#62a0cb" stroke="#1a1a1a" stroke-width="0.45"/>
<rect x="93.95" y="277.90" width="6.61" height="0.60" fill="#ffcfa0" stroke="#1a1a1a" stroke-width="0.45"/>
<rect x="93.95" y="277.30" width="6.61" height="0.60" fill="#ffa556" stroke="#1a1a1a" stroke-width="0.45"/>
<rect x="93.95" y="273.60" width="6.61" height="3.70" fill="#62a0cb" stroke="#1a1a1a" stroke-width="0.45"/>
<rect x="100.56" y="277.50" width="6.61" height="1.00" fill="#ffa556" stroke="#1a1a1a" stroke-width="0.45"/>
<rect x="100.56" y="274.40" width="6.61" height="3.10" fill="#c6d8ef" stroke="#1a1a1a" stroke-width="0.45"/>
<rect x="100.56" y="269.50" width="6.61" height="4.90" fill="#62a0cb" stroke="#1a1a1a" stroke-width="0.45"/>
<rect x="107.17" y="278.00" width="6.61" height="0.50" fill="#ffcfa0" stroke="#1a1a1a" stroke-width="0.45"/>
<rect x="107.17" y="277.50" width="6.61" height="0.50" fill="#ffa556" stroke="#1a1a1a" stroke-width="0.45"/>
<rect x="107.17" y="277.00" width="6.61" height="0.50" fill="#c6d8ef" stroke="#1a1a1a" stroke-width="0.45"/>
<rect x="107.17" y="271.40" width="6.61" height="5.60" fill="#62a0cb" stroke="#1a1a1a" stroke-width="0.45"/>
<rect x="113.78" y="277.50" width="6.61" height="1.00" fill="#ffcfa0" stroke="#1a1a1a" stroke-width="0.45"/>
<rect x="113.78" y="274.20" width="6.61" height="3.30" fill="#ffa556" stroke="#1a1a1a" stroke-width="0.45"/>
<rect x="113.78" y="271.10" width="6.61" height="3.10" fill="#c6d8ef" stroke="#1a1a1a" stroke-width="0.45"/>
<rect x="113.78" y="266.50" width="6.61" height="4.60" fill="#62a0cb" stroke="#1a1a1a" stroke-width="0.45"/>
<rect x="120.39" y="275.70" width="6.61" height="2.80" fill="#ffcfa0" stroke="#1a1a1a" stroke-width="0.45"/>
<rect x="120.39" y="264.70" width="6.61" height="11.00" fill="#ffa556" stroke="#1a1a1a" stroke-width="0.45"/>
<rect x="120.39" y="257.30" width="6.61" height="7.40" fill="#c6d8ef" stroke="#1a1a1a" stroke-width="0.45"/>
<rect x="120.39" y="252.40" width="6.61" height="4.90" fill="#62a0cb" stroke="#1a1a1a" stroke-width="0.45"/>
<rect x="127.00" y="277.50" width="6.61" height="1.00" fill="#ffcfa0" stroke="#1a1a1a" stroke-width="0.45"/>
<rect x="127.00" y="266.00" width="6.61" height="11.50" fill="#ffa556" stroke="#1a1a1a" stroke-width="0.45"/>
<rect x="127.00" y="256.50" width="6.61" height="9.50" fill="#c6d8ef" stroke="#1a1a1a" stroke-width="0.45"/>
<rect x="127.00" y="255.70" width="6.61" height="0.80" fill="#62a0cb" stroke="#1a1a1a" stroke-width="0.45"/>
<rect x="133.61" y="277.20" width="6.61" height="1.30" fill="#ffcfa0" stroke="#1a1a1a" stroke-width="0.45"/>
<rect x="133.61" y="271.10" width="6.61" height="6.10" fill="#ffa556" stroke="#1a1a1a" stroke-width="0.45"/>
<rect x="133.61" y="265.50" width="6.61" height="5.60" fill="#c6d8ef" stroke="#1a1a1a" stroke-width="0.45"/>
<rect x="133.61" y="263.50" width="6.61" height="2.00" fill="#62a0cb" stroke="#1a1a1a" stroke-width="0.45"/>
<rect x="140.22" y="277.20" width="6.61" height="1.30" fill="#ffcfa0" stroke="#1a1a1a" stroke-width="0.45"/>
<rect x="140.22" y="271.60" width="6.61" height="5.60" fill="#ffa556" stroke="#1a1a1a" stroke-width="0.45"/>
<rect x="140.22" y="265.50" width="6.61" height="6.10" fill="#c6d8ef" stroke="#1a1a1a" stroke-width="0.45"/>
<rect x="140.22" y="261.90" width="6.61" height="3.60" fill="#62a0cb" stroke="#1a1a1a" stroke-width="0.45"/>
<rect x="146.83" y="274.10" width="6.61" height="4.40" fill="#ffcfa0" stroke="#1a1a1a" stroke-width="0.45"/>
<rect x="146.83" y="272.70" width="6.61" height="1.40" fill="#ffa556" stroke="#1a1a1a" stroke-width="0.45"/>
<rect x="146.83" y="270.90" width="6.61" height="1.80" fill="#c6d8ef" stroke="#1a1a1a" stroke-width="0.45"/>
<rect x="146.83" y="267.10" width="6.61" height="3.80" fill="#62a0cb" stroke="#1a1a1a" stroke-width="0.45"/>
<rect x="153.44" y="275.20" width="6.61" height="3.30" fill="#ffcfa0" stroke="#1a1a1a" stroke-width="0.45"/>
<rect x="153.44" y="274.20" width="6.61" height="1.00" fill="#ffa556" stroke="#1a1a1a" stroke-width="0.45"/>
<rect x="153.44" y="272.00" width="6.61" height="2.20" fill="#c6d8ef" stroke="#1a1a1a" stroke-width="0.45"/>
<rect x="153.44" y="269.80" width="6.61" height="2.20" fill="#62a0cb" stroke="#1a1a1a" stroke-width="0.45"/>
<rect x="160.05" y="274.70" width="6.61" height="3.80" fill="#ffcfa0" stroke="#1a1a1a" stroke-width="0.45"/>
<rect x="160.05" y="272.80" width="6.61" height="1.90" fill="#62a0cb" stroke="#1a1a1a" stroke-width="0.45"/>
<rect x="166.66" y="275.90" width="6.61" height="2.60" fill="#ffcfa0" stroke="#1a1a1a" stroke-width="0.45"/>
<rect x="166.66" y="274.60" width="6.61" height="1.30" fill="#62a0cb" stroke="#1a1a1a" stroke-width="0.45"/>
<rect x="173.27" y="278.10" width="6.61" height="0.40" fill="#62a0cb" stroke="#1a1a1a" stroke-width="0.45"/>
<rect x="179.88" y="278.20" width="6.61" height="0.30" fill="#62a0cb" stroke="#1a1a1a" stroke-width="0.45"/>
<rect x="206.40" y="432.79" width="0.50" height="8.11" fill="#ffcfa0" stroke="#1a1a1a" stroke-width="0.45"/>
<rect x="206.90" y="432.79" width="2.50" height="8.11" fill="#ffa556" stroke="#1a1a1a" stroke-width="0.45"/>
<rect x="209.40" y="432.79" width="0.50" height="8.11" fill="#c6d8ef" stroke="#1a1a1a" stroke-width="0.45"/>
<rect x="209.90" y="432.79" width="1.00" height="8.11" fill="#62a0cb" stroke="#1a1a1a" stroke-width="0.45"/>
<rect x="206.40" y="424.68" width="1.00" height="8.11" fill="#ffcfa0" stroke="#1a1a1a" stroke-width="0.45"/>
<rect x="207.40" y="424.68" width="2.50" height="8.11" fill="#ffa556" stroke="#1a1a1a" stroke-width="0.45"/>
<rect x="209.90" y="424.68" width="1.50" height="8.11" fill="#c6d8ef" stroke="#1a1a1a" stroke-width="0.45"/>
<rect x="211.40" y="424.68" width="1.40" height="8.11" fill="#62a0cb" stroke="#1a1a1a" stroke-width="0.45"/>
<rect x="206.40" y="416.57" width="2.50" height="8.11" fill="#ffcfa0" stroke="#1a1a1a" stroke-width="0.45"/>
<rect x="208.90" y="416.57" width="11.60" height="8.11" fill="#ffa556" stroke="#1a1a1a" stroke-width="0.45"/>
<rect x="220.50" y="416.57" width="2.90" height="8.11" fill="#c6d8ef" stroke="#1a1a1a" stroke-width="0.45"/>
<rect x="223.40" y="416.57" width="1.90" height="8.11" fill="#62a0cb" stroke="#1a1a1a" stroke-width="0.45"/>
<rect x="206.40" y="408.46" width="4.00" height="8.11" fill="#ffcfa0" stroke="#1a1a1a" stroke-width="0.45"/>
<rect x="210.40" y="408.46" width="8.10" height="8.11" fill="#ffa556" stroke="#1a1a1a" stroke-width="0.45"/>
<rect x="218.50" y="408.46" width="2.90" height="8.11" fill="#c6d8ef" stroke="#1a1a1a" stroke-width="0.45"/>
<rect x="221.40" y="408.46" width="4.80" height="8.11" fill="#62a0cb" stroke="#1a1a1a" stroke-width="0.45"/>
<rect x="206.40" y="400.35" width="2.10" height="8.11" fill="#ffcfa0" stroke="#1a1a1a" stroke-width="0.45"/>
<rect x="208.50" y="400.35" width="2.30" height="8.11" fill="#ffa556" stroke="#1a1a1a" stroke-width="0.45"/>
<rect x="210.80" y="400.35" width="5.80" height="8.11" fill="#c6d8ef" stroke="#1a1a1a" stroke-width="0.45"/>
<rect x="216.60" y="400.35" width="8.10" height="8.11" fill="#62a0cb" stroke="#1a1a1a" stroke-width="0.45"/>
<rect x="206.40" y="392.24" width="5.40" height="8.11" fill="#ffcfa0" stroke="#1a1a1a" stroke-width="0.45"/>
<rect x="211.80" y="392.24" width="2.90" height="8.11" fill="#ffa556" stroke="#1a1a1a" stroke-width="0.45"/>
<rect x="214.70" y="392.24" width="0.50" height="8.11" fill="#c6d8ef" stroke="#1a1a1a" stroke-width="0.45"/>
<rect x="215.20" y="392.24" width="5.40" height="8.11" fill="#62a0cb" stroke="#1a1a1a" stroke-width="0.45"/>
<rect x="206.40" y="384.13" width="3.50" height="8.11" fill="#ffcfa0" stroke="#1a1a1a" stroke-width="0.45"/>
<rect x="209.90" y="384.13" width="1.90" height="8.11" fill="#ffa556" stroke="#1a1a1a" stroke-width="0.45"/>
<rect x="211.80" y="384.13" width="8.70" height="8.11" fill="#c6d8ef" stroke="#1a1a1a" stroke-width="0.45"/>
<rect x="220.50" y="384.13" width="3.90" height="8.11" fill="#62a0cb" stroke="#1a1a1a" stroke-width="0.45"/>
<rect x="206.40" y="376.02" width="5.40" height="8.11" fill="#ffcfa0" stroke="#1a1a1a" stroke-width="0.45"/>
<rect x="211.80" y="376.02" width="3.90" height="8.11" fill="#ffa556" stroke="#1a1a1a" stroke-width="0.45"/>
<rect x="215.70" y="376.02" width="4.80" height="8.11" fill="#c6d8ef" stroke="#1a1a1a" stroke-width="0.45"/>
<rect x="220.50" y="376.02" width="3.50" height="8.11" fill="#62a0cb" stroke="#1a1a1a" stroke-width="0.45"/>
<rect x="206.40" y="367.91" width="9.30" height="8.11" fill="#ffcfa0" stroke="#1a1a1a" stroke-width="0.45"/>
<rect x="215.70" y="367.91" width="6.80" height="8.11" fill="#ffa556" stroke="#1a1a1a" stroke-width="0.45"/>
<rect x="222.50" y="367.91" width="8.70" height="8.11" fill="#c6d8ef" stroke="#1a1a1a" stroke-width="0.45"/>
<rect x="231.20" y="367.91" width="1.60" height="8.11" fill="#62a0cb" stroke="#1a1a1a" stroke-width="0.45"/>
<rect x="206.40" y="359.80" width="5.40" height="8.11" fill="#ffcfa0" stroke="#1a1a1a" stroke-width="0.45"/>
<rect x="211.80" y="359.80" width="4.80" height="8.11" fill="#ffa556" stroke="#1a1a1a" stroke-width="0.45"/>
<rect x="216.60" y="359.80" width="4.80" height="8.11" fill="#c6d8ef" stroke="#1a1a1a" stroke-width="0.45"/>
<rect x="221.40" y="359.80" width="2.50" height="8.11" fill="#62a0cb" stroke="#1a1a1a" stroke-width="0.45"/>
<rect x="206.40" y="351.69" width="2.00" height="8.11" fill="#ffcfa0" stroke="#1a1a1a" stroke-width="0.45"/>
<rect x="208.40" y="351.69" width="6.00" height="8.11" fill="#ffa556" stroke="#1a1a1a" stroke-width="0.45"/>
<rect x="214.40" y="351.69" width="2.00" height="8.11" fill="#c6d8ef" stroke="#1a1a1a" stroke-width="0.45"/>
<rect x="216.40" y="351.69" width="5.60" height="8.11" fill="#62a0cb" stroke="#1a1a1a" stroke-width="0.45"/>
<rect x="206.40" y="343.58" width="2.50" height="8.11" fill="#ffa556" stroke="#1a1a1a" stroke-width="0.45"/>
<rect x="208.90" y="343.58" width="2.50" height="8.11" fill="#c6d8ef" stroke="#1a1a1a" stroke-width="0.45"/>
<rect x="211.40" y="343.58" width="5.00" height="8.11" fill="#62a0cb" stroke="#1a1a1a" stroke-width="0.45"/>
<rect x="206.40" y="335.47" width="4.00" height="8.11" fill="#c6d8ef" stroke="#1a1a1a" stroke-width="0.45"/>
<rect x="210.40" y="335.47" width="4.50" height="8.11" fill="#62a0cb" stroke="#1a1a1a" stroke-width="0.45"/>
<rect x="206.40" y="327.36" width="3.50" height="8.11" fill="#c6d8ef" stroke="#1a1a1a" stroke-width="0.45"/>
<rect x="209.90" y="327.36" width="3.80" height="8.11" fill="#62a0cb" stroke="#1a1a1a" stroke-width="0.45"/>
<rect x="206.40" y="319.25" width="5.50" height="8.11" fill="#62a0cb" stroke="#1a1a1a" stroke-width="0.45"/>
<rect x="206.40" y="311.14" width="3.30" height="8.11" fill="#62a0cb" stroke="#1a1a1a" stroke-width="0.45"/>
<rect x="206.40" y="294.92" width="1.50" height="8.11" fill="#ffa556" stroke="#1a1a1a" stroke-width="0.45"/>
<rect x="207.90" y="294.92" width="3.00" height="8.11" fill="#62a0cb" stroke="#1a1a1a" stroke-width="0.45"/>
<g transform="translate(60.7 301.7)" fill="#aec7e8" fill-opacity="0.9"><path d="M0,-2.6 L2.3,0 L0,2.6 L-2.3,0 Z"/></g>
<g transform="translate(70.4 295.4)" fill="#1f77b4" fill-opacity="0.9"><path d="M-0.75,-2.4 H0.75 V-0.75 H2.4 V0.75 H0.75 V2.4 H-0.75 V0.75 H-2.4 V-0.75 H-0.75 Z"/></g>
<g transform="translate(73.8 297.7)" fill="#ff7f0e" fill-opacity="0.9"><path d="M0,-2.6 L2.3,0 L0,2.6 L-2.3,0 Z"/></g>
<g transform="translate(79.5 296.0)" fill="#ffbb78" fill-opacity="0.9"><path d="M-0.75,-2.4 H0.75 V-0.75 H2.4 V0.75 H0.75 V2.4 H-0.75 V0.75 H-2.4 V-0.75 H-0.75 Z"/></g>
<g transform="translate(72.3 320.8)" fill="#ff7f0e" fill-opacity="0.9"><path d="M0,-2.6 L2.3,0 L0,2.6 L-2.3,0 Z"/></g>
<g transform="translate(84.1 315.6)" fill="#1f77b4" fill-opacity="0.9"><circle cx="0" cy="0" r="2.3"/></g>
<g transform="translate(68.1 329.6)" fill="#aec7e8" fill-opacity="0.9"><path d="M0,-2.6 L2.3,0 L0,2.6 L-2.3,0 Z"/></g>
<g transform="translate(96.0 326.2)" fill="#aec7e8" fill-opacity="0.9"><path d="M-2.4,-1.4 L-1.4,-2.4 L0,-1 L1.4,-2.4 L2.4,-1.4 L1,0 L2.4,1.4 L1.4,2.4 L0,1 L-1.4,2.4 L-2.4,1.4 L-1,0 Z"/></g>
<g transform="translate(88.0 331.3)" fill="#1f77b4" fill-opacity="0.9"><path d="M-0.75,-2.4 H0.75 V-0.75 H2.4 V0.75 H0.75 V2.4 H-0.75 V0.75 H-2.4 V-0.75 H-0.75 Z"/></g>
<g transform="translate(106.6 320.3)" fill="#1f77b4" fill-opacity="0.9"><path d="M-2.4,-1.4 L-1.4,-2.4 L0,-1 L1.4,-2.4 L2.4,-1.4 L1,0 L2.4,1.4 L1.4,2.4 L0,1 L-1.4,2.4 L-2.4,1.4 L-1,0 Z"/></g>
<g transform="translate(100.7 327.0)" fill="#1f77b4" fill-opacity="0.9"><path d="M-2.4,-1.4 L-1.4,-2.4 L0,-1 L1.4,-2.4 L2.4,-1.4 L1,0 L2.4,1.4 L1.4,2.4 L0,1 L-1.4,2.4 L-2.4,1.4 L-1,0 Z"/></g>
<g transform="translate(106.9 329.1)" fill="#aec7e8" fill-opacity="0.9"><path d="M-0.75,-2.4 H0.75 V-0.75 H2.4 V0.75 H0.75 V2.4 H-0.75 V0.75 H-2.4 V-0.75 H-0.75 Z"/></g>
<g transform="translate(93.7 334.4)" fill="#aec7e8" fill-opacity="0.9"><path d="M0,-2.6 L2.3,0 L0,2.6 L-2.3,0 Z"/></g>
<g transform="translate(102.0 335.3)" fill="#1f77b4" fill-opacity="0.9"><path d="M-2.4,-1.4 L-1.4,-2.4 L0,-1 L1.4,-2.4 L2.4,-1.4 L1,0 L2.4,1.4 L1.4,2.4 L0,1 L-1.4,2.4 L-2.4,1.4 L-1,0 Z"/></g>
<g transform="translate(118.4 327.0)" fill="#1f77b4" fill-opacity="0.9"><path d="M-0.75,-2.4 H0.75 V-0.75 H2.4 V0.75 H0.75 V2.4 H-0.75 V0.75 H-2.4 V-0.75 H-0.75 Z"/></g>
<g transform="translate(118.4 330.9)" fill="#aec7e8" fill-opacity="0.9"><path d="M-0.75,-2.4 H0.75 V-0.75 H2.4 V0.75 H0.75 V2.4 H-0.75 V0.75 H-2.4 V-0.75 H-0.75 Z"/></g>
<g transform="translate(121.9 331.7)" fill="#1f77b4" fill-opacity="0.9"><path d="M-2.4,-1.4 L-1.4,-2.4 L0,-1 L1.4,-2.4 L2.4,-1.4 L1,0 L2.4,1.4 L1.4,2.4 L0,1 L-1.4,2.4 L-2.4,1.4 L-1,0 Z"/></g>
<g transform="translate(87.2 341.4)" fill="#1f77b4" fill-opacity="0.9"><path d="M0,-1.4 L1.3,0 L0,1.4 L-1.3,0 Z"/></g>
<g transform="translate(108.3 342.3)" fill="#1f77b4" fill-opacity="0.9"><path d="M-2.4,-1.4 L-1.4,-2.4 L0,-1 L1.4,-2.4 L2.4,-1.4 L1,0 L2.4,1.4 L1.4,2.4 L0,1 L-1.4,2.4 L-2.4,1.4 L-1,0 Z"/></g>
<g transform="translate(119.2 341.4)" fill="#aec7e8" fill-opacity="0.9"><path d="M-2.4,-1.4 L-1.4,-2.4 L0,-1 L1.4,-2.4 L2.4,-1.4 L1,0 L2.4,1.4 L1.4,2.4 L0,1 L-1.4,2.4 L-2.4,1.4 L-1,0 Z"/></g>
<g transform="translate(92.5 346.4)" fill="#1f77b4" fill-opacity="0.9"><path d="M-0.75,-2.4 H0.75 V-0.75 H2.4 V0.75 H0.75 V2.4 H-0.75 V0.75 H-2.4 V-0.75 H-0.75 Z"/></g>
<g transform="translate(78.7 352.9)" fill="#1f77b4" fill-opacity="0.9"><path d="M-2.4,-1.4 L-1.4,-2.4 L0,-1 L1.4,-2.4 L2.4,-1.4 L1,0 L2.4,1.4 L1.4,2.4 L0,1 L-1.4,2.4 L-2.4,1.4 L-1,0 Z"/></g>
<g transform="translate(93.2 352.4)" fill="#ff7f0e" fill-opacity="0.9"><path d="M0,-2.6 L2.3,0 L0,2.6 L-2.3,0 Z"/></g>
<g transform="translate(100.7 348.5)" fill="#1f77b4" fill-opacity="0.9"><rect x="-1.5" y="-1.5" width="3" height="3"/></g>
<g transform="translate(103.4 349.4)" fill="#1f77b4" fill-opacity="0.9"><path d="M-2.4,-1.4 L-1.4,-2.4 L0,-1 L1.4,-2.4 L2.4,-1.4 L1,0 L2.4,1.4 L1.4,2.4 L0,1 L-1.4,2.4 L-2.4,1.4 L-1,0 Z"/></g>
<g transform="translate(109.6 351.7)" fill="#1f77b4" fill-opacity="0.9"><circle cx="0" cy="0" r="2.3"/></g>
<g transform="translate(113.0 349.9)" fill="#ff7f0e" fill-opacity="0.9"><path d="M-2.4,-1.4 L-1.4,-2.4 L0,-1 L1.4,-2.4 L2.4,-1.4 L1,0 L2.4,1.4 L1.4,2.4 L0,1 L-1.4,2.4 L-2.4,1.4 L-1,0 Z"/></g>
<g transform="translate(100.7 357.3)" fill="#ff7f0e" fill-opacity="0.9"><circle cx="0" cy="0" r="2.3"/></g>
<g transform="translate(122.4 349.9)" fill="#1f77b4" fill-opacity="0.9"><path d="M-2.4,-1.4 L-1.4,-2.4 L0,-1 L1.4,-2.4 L2.4,-1.4 L1,0 L2.4,1.4 L1.4,2.4 L0,1 L-1.4,2.4 L-2.4,1.4 L-1,0 Z"/></g>
<g transform="translate(117.5 353.8)" fill="#ff7f0e" fill-opacity="0.9"><circle cx="0" cy="0" r="2.3"/></g>
<g transform="translate(105.4 307.9)" fill="#1f77b4" fill-opacity="0.9"><path d="M-0.75,-2.4 H0.75 V-0.75 H2.4 V0.75 H0.75 V2.4 H-0.75 V0.75 H-2.4 V-0.75 H-0.75 Z"/></g>
<g transform="translate(144.2 301.7)" fill="#1f77b4" fill-opacity="0.9"><path d="M-2.4,-1.4 L-1.4,-2.4 L0,-1 L1.4,-2.4 L2.4,-1.4 L1,0 L2.4,1.4 L1.4,2.4 L0,1 L-1.4,2.4 L-2.4,1.4 L-1,0 Z"/></g>
<g transform="translate(149.9 314.8)" fill="#1f77b4" fill-opacity="0.9"><path d="M-2.4,-1.4 L-1.4,-2.4 L0,-1 L1.4,-2.4 L2.4,-1.4 L1,0 L2.4,1.4 L1.4,2.4 L0,1 L-1.4,2.4 L-2.4,1.4 L-1,0 Z"/></g>
<g transform="translate(120.2 330.7)" fill="#aec7e8" fill-opacity="0.9"><path d="M-2.4,-1.4 L-1.4,-2.4 L0,-1 L1.4,-2.4 L2.4,-1.4 L1,0 L2.4,1.4 L1.4,2.4 L0,1 L-1.4,2.4 L-2.4,1.4 L-1,0 Z"/></g>
<g transform="translate(152.9 317.6)" fill="#1f77b4" fill-opacity="0.9"><path d="M-2.4,-1.4 L-1.4,-2.4 L0,-1 L1.4,-2.4 L2.4,-1.4 L1,0 L2.4,1.4 L1.4,2.4 L0,1 L-1.4,2.4 L-2.4,1.4 L-1,0 Z"/></g>
<g transform="translate(169.4 318.2)" fill="#1f77b4" fill-opacity="0.9"><circle cx="0" cy="0" r="2.3"/></g>
<g transform="translate(169.2 326.8)" fill="#1f77b4" fill-opacity="0.9"><path d="M0,-1.4 L1.3,0 L0,1.4 L-1.3,0 Z"/></g>
<g transform="translate(184.0 323.9)" fill="#1f77b4" fill-opacity="0.9"><path d="M-2.4,-1.4 L-1.4,-2.4 L0,-1 L1.4,-2.4 L2.4,-1.4 L1,0 L2.4,1.4 L1.4,2.4 L0,1 L-1.4,2.4 L-2.4,1.4 L-1,0 Z"/></g>
<g transform="translate(154.0 328.8)" fill="#aec7e8" fill-opacity="0.9"><rect x="-1.5" y="-1.5" width="3" height="3"/></g>
<g transform="translate(137.6 337.0)" fill="#aec7e8" fill-opacity="0.9"><path d="M-2.4,-1.4 L-1.4,-2.4 L0,-1 L1.4,-2.4 L2.4,-1.4 L1,0 L2.4,1.4 L1.4,2.4 L0,1 L-1.4,2.4 L-2.4,1.4 L-1,0 Z"/></g>
<g transform="translate(130.9 340.6)" fill="#aec7e8" fill-opacity="0.9"><rect x="-1.5" y="-1.5" width="3" height="3"/></g>
<g transform="translate(144.6 338.4)" fill="#ff7f0e" fill-opacity="0.9"><rect x="-1.5" y="-1.5" width="3" height="3"/></g>
<g transform="translate(156.1 339.1)" fill="#1f77b4" fill-opacity="0.9"><path d="M-2.4,-1.4 L-1.4,-2.4 L0,-1 L1.4,-2.4 L2.4,-1.4 L1,0 L2.4,1.4 L1.4,2.4 L0,1 L-1.4,2.4 L-2.4,1.4 L-1,0 Z"/></g>
<g transform="translate(164.0 339.3)" fill="#1f77b4" fill-opacity="0.9"><circle cx="0" cy="0" r="2.3"/></g>
<g transform="translate(153.8 344.6)" fill="#1f77b4" fill-opacity="0.9"><path d="M-2.4,-1.4 L-1.4,-2.4 L0,-1 L1.4,-2.4 L2.4,-1.4 L1,0 L2.4,1.4 L1.4,2.4 L0,1 L-1.4,2.4 L-2.4,1.4 L-1,0 Z"/></g>
<g transform="translate(131.9 347.6)" fill="#aec7e8" fill-opacity="0.9"><path d="M0,-2.6 L2.3,0 L0,2.6 L-2.3,0 Z"/></g>
<g transform="translate(145.0 350.2)" fill="#ff7f0e" fill-opacity="0.9"><circle cx="0" cy="0" r="2.3"/></g>
<g transform="translate(153.1 348.5)" fill="#ff7f0e" fill-opacity="0.9"><path d="M0,-1.4 L1.3,0 L0,1.4 L-1.3,0 Z"/></g>
<g transform="translate(153.4 351.1)" fill="#1f77b4" fill-opacity="0.9"><path d="M-2.4,-1.4 L-1.4,-2.4 L0,-1 L1.4,-2.4 L2.4,-1.4 L1,0 L2.4,1.4 L1.4,2.4 L0,1 L-1.4,2.4 L-2.4,1.4 L-1,0 Z"/></g>
<g transform="translate(165.4 349.4)" fill="#aec7e8" fill-opacity="0.9"><rect x="-1.5" y="-1.5" width="3" height="3"/></g>
<g transform="translate(151.7 353.8)" fill="#aec7e8" fill-opacity="0.9"><path d="M-2.4,-1.4 L-1.4,-2.4 L0,-1 L1.4,-2.4 L2.4,-1.4 L1,0 L2.4,1.4 L1.4,2.4 L0,1 L-1.4,2.4 L-2.4,1.4 L-1,0 Z"/></g>
<g transform="translate(164.9 358.2)" fill="#1f77b4" fill-opacity="0.9"><rect x="-1.5" y="-1.5" width="3" height="3"/></g>
<g transform="translate(129.6 357.3)" fill="#ff7f0e" fill-opacity="0.9"><path d="M-0.75,-2.4 H0.75 V-0.75 H2.4 V0.75 H0.75 V2.4 H-0.75 V0.75 H-2.4 V-0.75 H-0.75 Z"/></g>
<g transform="translate(134.0 358.7)" fill="#ff7f0e" fill-opacity="0.9"><rect x="-1.5" y="-1.5" width="3" height="3"/></g>
<g transform="translate(138.5 359.0)" fill="#ff7f0e" fill-opacity="0.9"><path d="M-0.75,-2.4 H0.75 V-0.75 H2.4 V0.75 H0.75 V2.4 H-0.75 V0.75 H-2.4 V-0.75 H-0.75 Z"/></g>
<g transform="translate(95.8 352.9)" fill="#1f77b4" fill-opacity="0.9"><path d="M0,-2.6 L2.3,0 L0,2.6 L-2.3,0 Z"/></g>
<g transform="translate(82.5 358.3)" fill="#1f77b4" fill-opacity="0.9"><rect x="-1.5" y="-1.5" width="3" height="3"/></g>
<g transform="translate(81.9 356.5)" fill="#1f77b4" fill-opacity="0.9"><path d="M-2.4,-1.4 L-1.4,-2.4 L0,-1 L1.4,-2.4 L2.4,-1.4 L1,0 L2.4,1.4 L1.4,2.4 L0,1 L-1.4,2.4 L-2.4,1.4 L-1,0 Z"/></g>
<g transform="translate(89.8 359.5)" fill="#ffbb78" fill-opacity="0.9"><path d="M-0.75,-2.4 H0.75 V-0.75 H2.4 V0.75 H0.75 V2.4 H-0.75 V0.75 H-2.4 V-0.75 H-0.75 Z"/></g>
<g transform="translate(82.5 364.1)" fill="#ff7f0e" fill-opacity="0.9"><path d="M0,-2.6 L2.3,0 L0,2.6 L-2.3,0 Z"/></g>
<g transform="translate(86.8 364.3)" fill="#1f77b4" fill-opacity="0.9"><circle cx="0" cy="0" r="2.3"/></g>
<g transform="translate(86.2 367.1)" fill="#ff7f0e" fill-opacity="0.9"><path d="M0,-2.6 L2.3,0 L0,2.6 L-2.3,0 Z"/></g>
<g transform="translate(94.0 372.2)" fill="#1f77b4" fill-opacity="0.9"><circle cx="0" cy="0" r="2.3"/></g>
<g transform="translate(91.0 374.6)" fill="#ffbb78" fill-opacity="0.9"><path d="M-2.4,-1.4 L-1.4,-2.4 L0,-1 L1.4,-2.4 L2.4,-1.4 L1,0 L2.4,1.4 L1.4,2.4 L0,1 L-1.4,2.4 L-2.4,1.4 L-1,0 Z"/></g>
<g transform="translate(94.2 381.2)" fill="#1f77b4" fill-opacity="0.9"><circle cx="0" cy="0" r="2.3"/></g>
<g transform="translate(97.6 381.8)" fill="#1f77b4" fill-opacity="0.9"><path d="M0,-2.6 L2.3,0 L0,2.6 L-2.3,0 Z"/></g>
<g transform="translate(99.4 357.7)" fill="#ff7f0e" fill-opacity="0.9"><circle cx="0" cy="0" r="2.3"/></g>
<g transform="translate(98.8 361.9)" fill="#aec7e8" fill-opacity="0.9"><rect x="-1.5" y="-1.5" width="3" height="3"/></g>
<g transform="translate(99.4 368.6)" fill="#ffbb78" fill-opacity="0.9"><circle cx="0" cy="0" r="2.3"/></g>
<g transform="translate(105.2 330.6)" fill="#aec7e8" fill-opacity="0.9"><rect x="-1.5" y="-1.5" width="3" height="3"/></g>
<g transform="translate(117.3 342.0)" fill="#aec7e8" fill-opacity="0.9"><path d="M-0.75,-2.4 H0.75 V-0.75 H2.4 V0.75 H0.75 V2.4 H-0.75 V0.75 H-2.4 V-0.75 H-0.75 Z"/></g>
<g transform="translate(118.5 339.4)" fill="#1f77b4" fill-opacity="0.9"><rect x="-1.5" y="-1.5" width="3" height="3"/></g>
<g transform="translate(126.3 352.9)" fill="#aec7e8" fill-opacity="0.9"><path d="M-2.4,-1.4 L-1.4,-2.4 L0,-1 L1.4,-2.4 L2.4,-1.4 L1,0 L2.4,1.4 L1.4,2.4 L0,1 L-1.4,2.4 L-2.4,1.4 L-1,0 Z"/></g>
<g transform="translate(122.1 354.7)" fill="#ff7f0e" fill-opacity="0.9"><circle cx="0" cy="0" r="2.3"/></g>
<g transform="translate(119.4 357.1)" fill="#ff7f0e" fill-opacity="0.9"><path d="M-0.75,-2.4 H0.75 V-0.75 H2.4 V0.75 H0.75 V2.4 H-0.75 V0.75 H-2.4 V-0.75 H-0.75 Z"/></g>
<g transform="translate(125.1 358.3)" fill="#ff7f0e" fill-opacity="0.9"><path d="M-0.75,-2.4 H0.75 V-0.75 H2.4 V0.75 H0.75 V2.4 H-0.75 V0.75 H-2.4 V-0.75 H-0.75 Z"/></g>
<g transform="translate(115.5 360.1)" fill="#ff7f0e" fill-opacity="0.9"><rect x="-1.5" y="-1.5" width="3" height="3"/></g>
<g transform="translate(117.3 363.7)" fill="#1f77b4" fill-opacity="0.9"><circle cx="0" cy="0" r="2.3"/></g>
<g transform="translate(124.3 361.9)" fill="#ff7f0e" fill-opacity="0.9"><path d="M-0.75,-2.4 H0.75 V-0.75 H2.4 V0.75 H0.75 V2.4 H-0.75 V0.75 H-2.4 V-0.75 H-0.75 Z"/></g>
<g transform="translate(128.7 364.9)" fill="#ff7f0e" fill-opacity="0.9"><circle cx="0" cy="0" r="2.3"/></g>
<g transform="translate(145.6 365.9)" fill="#aec7e8" fill-opacity="0.9"><circle cx="0" cy="0" r="2.3"/></g>
<g transform="translate(149.8 363.7)" fill="#ffbb78" fill-opacity="0.9"><circle cx="0" cy="0" r="2.3"/></g>
<g transform="translate(132.9 368.8)" fill="#ff7f0e" fill-opacity="0.9"><path d="M-2.4,-1.4 L-1.4,-2.4 L0,-1 L1.4,-2.4 L2.4,-1.4 L1,0 L2.4,1.4 L1.4,2.4 L0,1 L-1.4,2.4 L-2.4,1.4 L-1,0 Z"/></g>
<g transform="translate(125.7 371.0)" fill="#ff7f0e" fill-opacity="0.9"><path d="M-0.75,-2.4 H0.75 V-0.75 H2.4 V0.75 H0.75 V2.4 H-0.75 V0.75 H-2.4 V-0.75 H-0.75 Z"/></g>
<g transform="translate(128.7 371.6)" fill="#ff7f0e" fill-opacity="0.9"><path d="M-0.75,-2.4 H0.75 V-0.75 H2.4 V0.75 H0.75 V2.4 H-0.75 V0.75 H-2.4 V-0.75 H-0.75 Z"/></g>
<g transform="translate(130.3 372.2)" fill="#ff7f0e" fill-opacity="0.9"><path d="M-2.4,-1.4 L-1.4,-2.4 L0,-1 L1.4,-2.4 L2.4,-1.4 L1,0 L2.4,1.4 L1.4,2.4 L0,1 L-1.4,2.4 L-2.4,1.4 L-1,0 Z"/></g>
<g transform="translate(145.0 371.6)" fill="#ff7f0e" fill-opacity="0.9"><rect x="-1.5" y="-1.5" width="3" height="3"/></g>
<g transform="translate(125.1 366.1)" fill="#aec7e8" fill-opacity="0.9"><rect x="-1.5" y="-1.5" width="3" height="3"/></g>
<g transform="translate(116.1 373.6)" fill="#aec7e8" fill-opacity="0.9"><circle cx="0" cy="0" r="2.3"/></g>
<g transform="translate(112.5 374.3)" fill="#1f77b4" fill-opacity="0.9"><path d="M0,-2.6 L2.3,0 L0,2.6 L-2.3,0 Z"/></g>
<g transform="translate(120.9 374.6)" fill="#ffbb78" fill-opacity="0.9"><circle cx="0" cy="0" r="2.3"/></g>
<g transform="translate(105.8 375.8)" fill="#ff7f0e" fill-opacity="0.9"><path d="M0,-2.6 L2.3,0 L0,2.6 L-2.3,0 Z"/></g>
<g transform="translate(108.8 377.0)" fill="#ffbb78" fill-opacity="0.9"><rect x="-1.5" y="-1.5" width="3" height="3"/></g>
<g transform="translate(113.4 378.0)" fill="#ffbb78" fill-opacity="0.9"><path d="M-2.4,-1.4 L-1.4,-2.4 L0,-1 L1.4,-2.4 L2.4,-1.4 L1,0 L2.4,1.4 L1.4,2.4 L0,1 L-1.4,2.4 L-2.4,1.4 L-1,0 Z"/></g>
<g transform="translate(123.9 377.6)" fill="#ff7f0e" fill-opacity="0.9"><path d="M-2.4,-1.4 L-1.4,-2.4 L0,-1 L1.4,-2.4 L2.4,-1.4 L1,0 L2.4,1.4 L1.4,2.4 L0,1 L-1.4,2.4 L-2.4,1.4 L-1,0 Z"/></g>
<g transform="translate(126.9 379.6)" fill="#ff7f0e" fill-opacity="0.9"><path d="M-0.75,-2.4 H0.75 V-0.75 H2.4 V0.75 H0.75 V2.4 H-0.75 V0.75 H-2.4 V-0.75 H-0.75 Z"/></g>
<g transform="translate(126.3 380.6)" fill="#ffbb78" fill-opacity="0.9"><path d="M-0.75,-2.4 H0.75 V-0.75 H2.4 V0.75 H0.75 V2.4 H-0.75 V0.75 H-2.4 V-0.75 H-0.75 Z"/></g>
<g transform="translate(128.1 376.4)" fill="#aec7e8" fill-opacity="0.9"><circle cx="0" cy="0" r="2.3"/></g>
<g transform="translate(135.3 380.5)" fill="#aec7e8" fill-opacity="0.9"><circle cx="0" cy="0" r="2.3"/></g>
<g transform="translate(137.9 382.4)" fill="#aec7e8" fill-opacity="0.9"><circle cx="0" cy="0" r="2.3"/></g>
<g transform="translate(130.3 378.8)" fill="#ff7f0e" fill-opacity="0.9"><path d="M0,-2.6 L2.3,0 L0,2.6 L-2.3,0 Z"/></g>
<g transform="translate(134.7 377.6)" fill="#ff7f0e" fill-opacity="0.9"><circle cx="0" cy="0" r="2.3"/></g>
<g transform="translate(141.4 378.8)" fill="#ff7f0e" fill-opacity="0.9"><path d="M-0.75,-2.4 H0.75 V-0.75 H2.4 V0.75 H0.75 V2.4 H-0.75 V0.75 H-2.4 V-0.75 H-0.75 Z"/></g>
<g transform="translate(135.3 374.8)" fill="#aec7e8" fill-opacity="0.9"><rect x="-1.5" y="-1.5" width="3" height="3"/></g>
<g transform="translate(117.9 379.4)" fill="#1f77b4" fill-opacity="0.9"><circle cx="0" cy="0" r="2.3"/></g>
<g transform="translate(117.9 382.4)" fill="#1f77b4" fill-opacity="0.9"><rect x="-1.5" y="-1.5" width="3" height="3"/></g>
<g transform="translate(146.0 374.8)" fill="#aec7e8" fill-opacity="0.9"><circle cx="0" cy="0" r="2.3"/></g>
<g transform="translate(142.2 374.6)" fill="#aec7e8" fill-opacity="0.9"><circle cx="0" cy="0" r="2.3"/></g>
<g transform="translate(150.8 380.8)" fill="#aec7e8" fill-opacity="0.9"><path d="M-2.4,-1.4 L-1.4,-2.4 L0,-1 L1.4,-2.4 L2.4,-1.4 L1,0 L2.4,1.4 L1.4,2.4 L0,1 L-1.4,2.4 L-2.4,1.4 L-1,0 Z"/></g>
<g transform="translate(115.5 385.2)" fill="#1f77b4" fill-opacity="0.9"><circle cx="0" cy="0" r="2.3"/></g>
<g transform="translate(103.4 384.2)" fill="#aec7e8" fill-opacity="0.9"><rect x="-1.5" y="-1.5" width="3" height="3"/></g>
<g transform="translate(152.4 355.3)" fill="#aec7e8" fill-opacity="0.9"><circle cx="0" cy="0" r="2.3"/></g>
<g transform="translate(157.8 363.7)" fill="#ffbb78" fill-opacity="0.9"><circle cx="0" cy="0" r="2.3"/></g>
<g transform="translate(162.0 364.3)" fill="#ffbb78" fill-opacity="0.9"><path d="M-0.75,-2.4 H0.75 V-0.75 H2.4 V0.75 H0.75 V2.4 H-0.75 V0.75 H-2.4 V-0.75 H-0.75 Z"/></g>
<g transform="translate(172.9 366.1)" fill="#ffbb78" fill-opacity="0.9"><circle cx="0" cy="0" r="2.3"/></g>
<g transform="translate(172.3 369.2)" fill="#ffbb78" fill-opacity="0.9"><path d="M-2.4,-1.4 L-1.4,-2.4 L0,-1 L1.4,-2.4 L2.4,-1.4 L1,0 L2.4,1.4 L1.4,2.4 L0,1 L-1.4,2.4 L-2.4,1.4 L-1,0 Z"/></g>
<g transform="translate(165.7 368.6)" fill="#ffbb78" fill-opacity="0.9"><path d="M-2.4,-1.4 L-1.4,-2.4 L0,-1 L1.4,-2.4 L2.4,-1.4 L1,0 L2.4,1.4 L1.4,2.4 L0,1 L-1.4,2.4 L-2.4,1.4 L-1,0 Z"/></g>
<g transform="translate(162.0 368.6)" fill="#ffbb78" fill-opacity="0.9"><path d="M-0.75,-2.4 H0.75 V-0.75 H2.4 V0.75 H0.75 V2.4 H-0.75 V0.75 H-2.4 V-0.75 H-0.75 Z"/></g>
<g transform="translate(154.8 372.2)" fill="#ffbb78" fill-opacity="0.9"><circle cx="0" cy="0" r="2.3"/></g>
<g transform="translate(160.2 371.6)" fill="#ffbb78" fill-opacity="0.9"><path d="M-0.75,-2.4 H0.75 V-0.75 H2.4 V0.75 H0.75 V2.4 H-0.75 V0.75 H-2.4 V-0.75 H-0.75 Z"/></g>
<g transform="translate(162.0 373.4)" fill="#ffbb78" fill-opacity="0.9"><circle cx="0" cy="0" r="2.3"/></g>
<g transform="translate(169.3 375.8)" fill="#ffbb78" fill-opacity="0.9"><circle cx="0" cy="0" r="2.3"/></g>
<g transform="translate(171.1 378.2)" fill="#ffbb78" fill-opacity="0.9"><circle cx="0" cy="0" r="2.3"/></g>
<g transform="translate(170.5 381.2)" fill="#ffbb78" fill-opacity="0.9"><circle cx="0" cy="0" r="2.3"/></g>
<g transform="translate(160.2 378.2)" fill="#ffbb78" fill-opacity="0.9"><path d="M0,-2.6 L2.3,0 L0,2.6 L-2.3,0 Z"/></g>
<g transform="translate(153.0 364.9)" fill="#1f77b4" fill-opacity="0.9"><path d="M0,-2.6 L2.3,0 L0,2.6 L-2.3,0 Z"/></g>
<g transform="translate(156.6 369.2)" fill="#ff7f0e" fill-opacity="0.9"><rect x="-1.5" y="-1.5" width="3" height="3"/></g>
<g transform="translate(155.4 385.4)" fill="#aec7e8" fill-opacity="0.9"><circle cx="0" cy="0" r="2.3"/></g>
<g transform="translate(99.8 385.8)" fill="#ffbb78" fill-opacity="0.9"><path d="M-2.4,-1.4 L-1.4,-2.4 L0,-1 L1.4,-2.4 L2.4,-1.4 L1,0 L2.4,1.4 L1.4,2.4 L0,1 L-1.4,2.4 L-2.4,1.4 L-1,0 Z"/></g>
<g transform="translate(106.9 387.8)" fill="#aec7e8" fill-opacity="0.9"><circle cx="0" cy="0" r="2.3"/></g>
<g transform="translate(125.0 386.5)" fill="#aec7e8" fill-opacity="0.9"><path d="M-2.4,-1.4 L-1.4,-2.4 L0,-1 L1.4,-2.4 L2.4,-1.4 L1,0 L2.4,1.4 L1.4,2.4 L0,1 L-1.4,2.4 L-2.4,1.4 L-1,0 Z"/></g>
<g transform="translate(127.4 388.9)" fill="#aec7e8" fill-opacity="0.9"><path d="M-2.4,-1.4 L-1.4,-2.4 L0,-1 L1.4,-2.4 L2.4,-1.4 L1,0 L2.4,1.4 L1.4,2.4 L0,1 L-1.4,2.4 L-2.4,1.4 L-1,0 Z"/></g>
<g transform="translate(140.9 386.5)" fill="#aec7e8" fill-opacity="0.9"><path d="M-0.75,-2.4 H0.75 V-0.75 H2.4 V0.75 H0.75 V2.4 H-0.75 V0.75 H-2.4 V-0.75 H-0.75 Z"/></g>
<g transform="translate(146.5 388.3)" fill="#ff7f0e" fill-opacity="0.9"><path d="M-2.4,-1.4 L-1.4,-2.4 L0,-1 L1.4,-2.4 L2.4,-1.4 L1,0 L2.4,1.4 L1.4,2.4 L0,1 L-1.4,2.4 L-2.4,1.4 L-1,0 Z"/></g>
<g transform="translate(148.9 386.5)" fill="#ff7f0e" fill-opacity="0.9"><path d="M-2.4,-1.4 L-1.4,-2.4 L0,-1 L1.4,-2.4 L2.4,-1.4 L1,0 L2.4,1.4 L1.4,2.4 L0,1 L-1.4,2.4 L-2.4,1.4 L-1,0 Z"/></g>
<g transform="translate(149.5 390.1)" fill="#1f77b4" fill-opacity="0.9"><path d="M-2.4,-1.4 L-1.4,-2.4 L0,-1 L1.4,-2.4 L2.4,-1.4 L1,0 L2.4,1.4 L1.4,2.4 L0,1 L-1.4,2.4 L-2.4,1.4 L-1,0 Z"/></g>
<g transform="translate(111.5 392.0)" fill="#ffbb78" fill-opacity="0.9"><path d="M-2.4,-1.4 L-1.4,-2.4 L0,-1 L1.4,-2.4 L2.4,-1.4 L1,0 L2.4,1.4 L1.4,2.4 L0,1 L-1.4,2.4 L-2.4,1.4 L-1,0 Z"/></g>
<g transform="translate(120.7 392.0)" fill="#ff7f0e" fill-opacity="0.9"><path d="M-0.75,-2.4 H0.75 V-0.75 H2.4 V0.75 H0.75 V2.4 H-0.75 V0.75 H-2.4 V-0.75 H-0.75 Z"/></g>
<g transform="translate(126.2 393.2)" fill="#ff7f0e" fill-opacity="0.9"><path d="M-2.4,-1.4 L-1.4,-2.4 L0,-1 L1.4,-2.4 L2.4,-1.4 L1,0 L2.4,1.4 L1.4,2.4 L0,1 L-1.4,2.4 L-2.4,1.4 L-1,0 Z"/></g>
<g transform="translate(125.0 396.3)" fill="#ff7f0e" fill-opacity="0.9"><path d="M-2.4,-1.4 L-1.4,-2.4 L0,-1 L1.4,-2.4 L2.4,-1.4 L1,0 L2.4,1.4 L1.4,2.4 L0,1 L-1.4,2.4 L-2.4,1.4 L-1,0 Z"/></g>
<g transform="translate(144.6 393.6)" fill="#1f77b4" fill-opacity="0.9"><path d="M-0.75,-2.4 H0.75 V-0.75 H2.4 V0.75 H0.75 V2.4 H-0.75 V0.75 H-2.4 V-0.75 H-0.75 Z"/></g>
<g transform="translate(148.3 393.8)" fill="#ffbb78" fill-opacity="0.9"><circle cx="0" cy="0" r="2.3"/></g>
<g transform="translate(106.6 395.3)" fill="#1f77b4" fill-opacity="0.9"><path d="M-0.75,-2.4 H0.75 V-0.75 H2.4 V0.75 H0.75 V2.4 H-0.75 V0.75 H-2.4 V-0.75 H-0.75 Z"/></g>
<g transform="translate(109.5 396.5)" fill="#1f77b4" fill-opacity="0.9"><rect x="-1.5" y="-1.5" width="3" height="3"/></g>
<g transform="translate(122.1 396.9)" fill="#1f77b4" fill-opacity="0.9"><path d="M0,-2.6 L2.3,0 L0,2.6 L-2.3,0 Z"/></g>
<g transform="translate(133.0 396.3)" fill="#ffbb78" fill-opacity="0.9"><path d="M0,-2.6 L2.3,0 L0,2.6 L-2.3,0 Z"/></g>
<g transform="translate(107.9 399.5)" fill="#1f77b4" fill-opacity="0.9"><path d="M-0.75,-2.4 H0.75 V-0.75 H2.4 V0.75 H0.75 V2.4 H-0.75 V0.75 H-2.4 V-0.75 H-0.75 Z"/></g>
<g transform="translate(105.3 402.4)" fill="#1f77b4" fill-opacity="0.9"><path d="M0,-1.4 L1.3,0 L0,1.4 L-1.3,0 Z"/></g>
<g transform="translate(120.1 402.4)" fill="#1f77b4" fill-opacity="0.9"><path d="M-2.4,-1.4 L-1.4,-2.4 L0,-1 L1.4,-2.4 L2.4,-1.4 L1,0 L2.4,1.4 L1.4,2.4 L0,1 L-1.4,2.4 L-2.4,1.4 L-1,0 Z"/></g>
<g transform="translate(115.2 403.6)" fill="#aec7e8" fill-opacity="0.9"><path d="M-2.4,-1.4 L-1.4,-2.4 L0,-1 L1.4,-2.4 L2.4,-1.4 L1,0 L2.4,1.4 L1.4,2.4 L0,1 L-1.4,2.4 L-2.4,1.4 L-1,0 Z"/></g>
<g transform="translate(126.8 404.2)" fill="#aec7e8" fill-opacity="0.9"><path d="M-2.4,-1.4 L-1.4,-2.4 L0,-1 L1.4,-2.4 L2.4,-1.4 L1,0 L2.4,1.4 L1.4,2.4 L0,1 L-1.4,2.4 L-2.4,1.4 L-1,0 Z"/></g>
<g transform="translate(132.4 400.6)" fill="#aec7e8" fill-opacity="0.9"><circle cx="0" cy="0" r="2.3"/></g>
<g transform="translate(138.5 401.8)" fill="#ff7f0e" fill-opacity="0.9"><path d="M-0.75,-2.4 H0.75 V-0.75 H2.4 V0.75 H0.75 V2.4 H-0.75 V0.75 H-2.4 V-0.75 H-0.75 Z"/></g>
<g transform="translate(145.9 400.6)" fill="#ff7f0e" fill-opacity="0.9"><path d="M-2.4,-1.4 L-1.4,-2.4 L0,-1 L1.4,-2.4 L2.4,-1.4 L1,0 L2.4,1.4 L1.4,2.4 L0,1 L-1.4,2.4 L-2.4,1.4 L-1,0 Z"/></g>
<g transform="translate(148.3 402.4)" fill="#ffbb78" fill-opacity="0.9"><circle cx="0" cy="0" r="2.3"/></g>
<g transform="translate(130.5 404.2)" fill="#ffbb78" fill-opacity="0.9"><path d="M-2.4,-1.4 L-1.4,-2.4 L0,-1 L1.4,-2.4 L2.4,-1.4 L1,0 L2.4,1.4 L1.4,2.4 L0,1 L-1.4,2.4 L-2.4,1.4 L-1,0 Z"/></g>
<g transform="translate(107.6 405.0)" fill="#1f77b4" fill-opacity="0.9"><path d="M0,-1.4 L1.3,0 L0,1.4 L-1.3,0 Z"/></g>
<g transform="translate(110.5 406.9)" fill="#1f77b4" fill-opacity="0.9"><path d="M0,-1.4 L1.3,0 L0,1.4 L-1.3,0 Z"/></g>
<g transform="translate(112.7 406.2)" fill="#1f77b4" fill-opacity="0.9"><path d="M-2.4,-1.4 L-1.4,-2.4 L0,-1 L1.4,-2.4 L2.4,-1.4 L1,0 L2.4,1.4 L1.4,2.4 L0,1 L-1.4,2.4 L-2.4,1.4 L-1,0 Z"/></g>
<g transform="translate(146.5 406.7)" fill="#aec7e8" fill-opacity="0.9"><circle cx="0" cy="0" r="2.3"/></g>
<g transform="translate(138.5 407.3)" fill="#1f77b4" fill-opacity="0.9"><path d="M0,-2.6 L2.3,0 L0,2.6 L-2.3,0 Z"/></g>
<g transform="translate(134.2 409.2)" fill="#ffbb78" fill-opacity="0.9"><circle cx="0" cy="0" r="2.3"/></g>
<g transform="translate(117.0 409.8)" fill="#ff7f0e" fill-opacity="0.9"><path d="M-2.4,-1.4 L-1.4,-2.4 L0,-1 L1.4,-2.4 L2.4,-1.4 L1,0 L2.4,1.4 L1.4,2.4 L0,1 L-1.4,2.4 L-2.4,1.4 L-1,0 Z"/></g>
<g transform="translate(121.9 409.8)" fill="#1f77b4" fill-opacity="0.9"><path d="M0,-2.6 L2.3,0 L0,2.6 L-2.3,0 Z"/></g>
<g transform="translate(123.2 412.2)" fill="#1f77b4" fill-opacity="0.9"><rect x="-1.5" y="-1.5" width="3" height="3"/></g>
<g transform="translate(118.2 412.8)" fill="#ffbb78" fill-opacity="0.9"><circle cx="0" cy="0" r="2.3"/></g>
<g transform="translate(120.7 413.4)" fill="#ffbb78" fill-opacity="0.9"><rect x="-1.5" y="-1.5" width="3" height="3"/></g>
<g transform="translate(115.2 413.4)" fill="#1f77b4" fill-opacity="0.9"><circle cx="0" cy="0" r="2.3"/></g>
<g transform="translate(126.2 412.2)" fill="#aec7e8" fill-opacity="0.9"><circle cx="0" cy="0" r="2.3"/></g>
<g transform="translate(140.3 409.8)" fill="#ffbb78" fill-opacity="0.9"><circle cx="0" cy="0" r="2.3"/></g>
<g transform="translate(144.0 411.6)" fill="#ffbb78" fill-opacity="0.9"><path d="M-2.4,-1.4 L-1.4,-2.4 L0,-1 L1.4,-2.4 L2.4,-1.4 L1,0 L2.4,1.4 L1.4,2.4 L0,1 L-1.4,2.4 L-2.4,1.4 L-1,0 Z"/></g>
<g transform="translate(140.3 414.7)" fill="#ffbb78" fill-opacity="0.9"><circle cx="0" cy="0" r="2.3"/></g>
<g transform="translate(124.4 415.9)" fill="#ff7f0e" fill-opacity="0.9"><path d="M-0.75,-2.4 H0.75 V-0.75 H2.4 V0.75 H0.75 V2.4 H-0.75 V0.75 H-2.4 V-0.75 H-0.75 Z"/></g>
<g transform="translate(127.4 415.9)" fill="#ffbb78" fill-opacity="0.9"><circle cx="0" cy="0" r="2.3"/></g>
<g transform="translate(130.5 419.0)" fill="#ffbb78" fill-opacity="0.9"><circle cx="0" cy="0" r="2.3"/></g>
<g transform="translate(133.6 419.6)" fill="#ff7f0e" fill-opacity="0.9"><path d="M-0.75,-2.4 H0.75 V-0.75 H2.4 V0.75 H0.75 V2.4 H-0.75 V0.75 H-2.4 V-0.75 H-0.75 Z"/></g>
<g transform="translate(136.7 421.4)" fill="#ff7f0e" fill-opacity="0.9"><circle cx="0" cy="0" r="2.3"/></g>
<g transform="translate(135.4 419.6)" fill="#ff7f0e" fill-opacity="0.9"><circle cx="0" cy="0" r="2.3"/></g>
<g transform="translate(139.7 418.4)" fill="#ff7f0e" fill-opacity="0.9"><rect x="-1.5" y="-1.5" width="3" height="3"/></g>
<g transform="translate(115.8 420.8)" fill="#ffbb78" fill-opacity="0.9"><path d="M0,-2.6 L2.3,0 L0,2.6 L-2.3,0 Z"/></g>
<g transform="translate(123.2 420.8)" fill="#ffbb78" fill-opacity="0.9"><circle cx="0" cy="0" r="2.3"/></g>
<g transform="translate(126.8 424.5)" fill="#ffbb78" fill-opacity="0.9"><circle cx="0" cy="0" r="2.3"/></g>
<g transform="translate(131.1 423.9)" fill="#ff7f0e" fill-opacity="0.9"><circle cx="0" cy="0" r="2.3"/></g>
<g transform="translate(133.0 426.3)" fill="#ff7f0e" fill-opacity="0.9"><circle cx="0" cy="0" r="2.3"/></g>
<g transform="translate(133.6 428.2)" fill="#ff7f0e" fill-opacity="0.9"><circle cx="0" cy="0" r="2.3"/></g>
<g transform="translate(122.5 426.3)" fill="#1f77b4" fill-opacity="0.9"><path d="M-0.75,-2.4 H0.75 V-0.75 H2.4 V0.75 H0.75 V2.4 H-0.75 V0.75 H-2.4 V-0.75 H-0.75 Z"/></g>
<g transform="translate(131.1 429.4)" fill="#ff7f0e" fill-opacity="0.9"><circle cx="0" cy="0" r="2.3"/></g>
<g transform="translate(122.5 431.9)" fill="#ffbb78" fill-opacity="0.9"><path d="M0,-2.6 L2.3,0 L0,2.6 L-2.3,0 Z"/></g>
<g transform="translate(126.8 434.9)" fill="#ff7f0e" fill-opacity="0.9"><path d="M-0.75,-2.4 H0.75 V-0.75 H2.4 V0.75 H0.75 V2.4 H-0.75 V0.75 H-2.4 V-0.75 H-0.75 Z"/></g>
<g transform="translate(130.5 434.3)" fill="#ff7f0e" fill-opacity="0.9"><path d="M0,-2.6 L2.3,0 L0,2.6 L-2.3,0 Z"/></g>
<g transform="translate(126.2 438.0)" fill="#ff7f0e" fill-opacity="0.9"><circle cx="0" cy="0" r="2.3"/></g>
<g transform="translate(126.2 439.8)" fill="#1f77b4" fill-opacity="0.9"><path d="M0,-2.6 L2.3,0 L0,2.6 L-2.3,0 Z"/></g>
<g transform="translate(151.2 393.8)" fill="#ffbb78" fill-opacity="0.9"><circle cx="0" cy="0" r="2.3"/></g>
<g transform="translate(156.1 392.3)" fill="#ffbb78" fill-opacity="0.9"><path d="M-0.75,-2.4 H0.75 V-0.75 H2.4 V0.75 H0.75 V2.4 H-0.75 V0.75 H-2.4 V-0.75 H-0.75 Z"/></g>
<g transform="translate(153.1 396.9)" fill="#ffbb78" fill-opacity="0.9"><path d="M-2.4,-1.4 L-1.4,-2.4 L0,-1 L1.4,-2.4 L2.4,-1.4 L1,0 L2.4,1.4 L1.4,2.4 L0,1 L-1.4,2.4 L-2.4,1.4 L-1,0 Z"/></g>
<g transform="translate(151.2 400.5)" fill="#ffbb78" fill-opacity="0.9"><path d="M-2.4,-1.4 L-1.4,-2.4 L0,-1 L1.4,-2.4 L2.4,-1.4 L1,0 L2.4,1.4 L1.4,2.4 L0,1 L-1.4,2.4 L-2.4,1.4 L-1,0 Z"/></g>
<g transform="translate(150.6 402.4)" fill="#ffbb78" fill-opacity="0.9"><path d="M-2.4,-1.4 L-1.4,-2.4 L0,-1 L1.4,-2.4 L2.4,-1.4 L1,0 L2.4,1.4 L1.4,2.4 L0,1 L-1.4,2.4 L-2.4,1.4 L-1,0 Z"/></g>
<line x1="76.9" y1="289.7" x2="60.7" y2="301.7" stroke="#333" stroke-width="0.5"/>
<line x1="76.9" y1="289.7" x2="70.4" y2="295.4" stroke="#333" stroke-width="0.5"/>
<line x1="76.9" y1="289.7" x2="73.8" y2="297.7" stroke="#333" stroke-width="0.5"/>
<line x1="76.9" y1="289.7" x2="79.5" y2="296" stroke="#333" stroke-width="0.5"/>
<line x1="95" y1="295" x2="72.3" y2="320.8" stroke="#333" stroke-width="0.5"/>
<line x1="95" y1="302.6" x2="84.1" y2="315.6" stroke="#333" stroke-width="0.5"/>
<line x1="62" y1="337.3" x2="68.1" y2="329.6" stroke="#333" stroke-width="0.5"/>
<line x1="177.2" y1="309.7" x2="170.2" y2="317.1" stroke="#333" stroke-width="0.5"/>
<line x1="179" y1="317.6" x2="169.3" y2="326.5" stroke="#333" stroke-width="0.5"/>
<line x1="183.7" y1="324.2" x2="178.1" y2="331.7" stroke="#333" stroke-width="0.5"/>
<text x="77.80" y="288.30" font-size="5.25" textLength="26.50" lengthAdjust="spacingAndGlyphs" stroke="#000" stroke-width="0.15">Coarseness</text>
<text x="95.50" y="295.30" font-size="5.25" textLength="36.70" lengthAdjust="spacingAndGlyphs" stroke="#000" stroke-width="0.15">ZonePercentage</text>
<text x="95.50" y="302.80" font-size="5.25" textLength="28.20" lengthAdjust="spacingAndGlyphs" stroke="#000" stroke-width="0.15">RootMeanSq</text>
<text x="50.60" y="341.80" font-size="5.25" textLength="33.70" lengthAdjust="spacingAndGlyphs" stroke="#000" stroke-width="0.15">GrayLvlNonUni</text>
<text x="177.90" y="309.80" font-size="5.25" textLength="22.00" lengthAdjust="spacingAndGlyphs" stroke="#000" stroke-width="0.15">Skewness</text>
<text x="179.90" y="317.70" font-size="5.25" textLength="20.80" lengthAdjust="spacingAndGlyphs" stroke="#000" stroke-width="0.15">Busyness</text>
<text x="174.70" y="336.00" font-size="5.25" textLength="30.10" lengthAdjust="spacingAndGlyphs" stroke="#000" stroke-width="0.15">ClusterShade</text>
<rect x="47.8" y="278.5" width="158.60" height="162.40" fill="none" stroke="#262626" stroke-width="0.8"/>
<line x1="44.3" y1="440.90" x2="47.8" y2="440.90" stroke="#262626" stroke-width="0.7"/>
<line x1="203.20000000000002" y1="440.90" x2="206.4" y2="440.90" stroke="#262626" stroke-width="0.7"/>
<text x="41.20" y="443.75" font-size="8.05" text-anchor="end" textLength="11.13" lengthAdjust="spacingAndGlyphs" stroke="#000" stroke-width="0.15">0.0</text>
<line x1="44.3" y1="408.46" x2="47.8" y2="408.46" stroke="#262626" stroke-width="0.7"/>
<line x1="203.20000000000002" y1="408.46" x2="206.4" y2="408.46" stroke="#262626" stroke-width="0.7"/>
<text x="41.20" y="411.31" font-size="8.05" text-anchor="end" textLength="11.13" lengthAdjust="spacingAndGlyphs" stroke="#000" stroke-width="0.15">0.2</text>
<line x1="44.3" y1="376.02" x2="47.8" y2="376.02" stroke="#262626" stroke-width="0.7"/>
<line x1="203.20000000000002" y1="376.02" x2="206.4" y2="376.02" stroke="#262626" stroke-width="0.7"/>
<text x="41.20" y="378.87" font-size="8.05" text-anchor="end" textLength="11.13" lengthAdjust="spacingAndGlyphs" stroke="#000" stroke-width="0.15">0.4</text>
<line x1="44.3" y1="343.58" x2="47.8" y2="343.58" stroke="#262626" stroke-width="0.7"/>
<line x1="203.20000000000002" y1="343.58" x2="206.4" y2="343.58" stroke="#262626" stroke-width="0.7"/>
<text x="41.20" y="346.43" font-size="8.05" text-anchor="end" textLength="11.13" lengthAdjust="spacingAndGlyphs" stroke="#000" stroke-width="0.15">0.6</text>
<line x1="44.3" y1="311.14" x2="47.8" y2="311.14" stroke="#262626" stroke-width="0.7"/>
<line x1="203.20000000000002" y1="311.14" x2="206.4" y2="311.14" stroke="#262626" stroke-width="0.7"/>
<text x="41.20" y="313.99" font-size="8.05" text-anchor="end" textLength="11.13" lengthAdjust="spacingAndGlyphs" stroke="#000" stroke-width="0.15">0.8</text>
<line x1="44.3" y1="278.70" x2="47.8" y2="278.70" stroke="#262626" stroke-width="0.7"/>
<line x1="203.20000000000002" y1="278.70" x2="206.4" y2="278.70" stroke="#262626" stroke-width="0.7"/>
<text x="41.20" y="281.55" font-size="8.05" text-anchor="end" textLength="11.13" lengthAdjust="spacingAndGlyphs" stroke="#000" stroke-width="0.15">1.0</text>
<line x1="60.90" y1="440.9" x2="60.90" y2="444.4" stroke="#262626" stroke-width="0.7"/>
<line x1="60.90" y1="278.5" x2="60.90" y2="281.7" stroke="#262626" stroke-width="0.7"/>
<text x="60.90" y="453.70" font-size="7.84" text-anchor="middle" textLength="17.00" lengthAdjust="spacingAndGlyphs" stroke="#000" stroke-width="0.15">−1.0</text>
<line x1="93.95" y1="440.9" x2="93.95" y2="444.4" stroke="#262626" stroke-width="0.7"/>
<line x1="93.95" y1="278.5" x2="93.95" y2="281.7" stroke="#262626" stroke-width="0.7"/>
<text x="93.95" y="453.70" font-size="7.84" text-anchor="middle" textLength="17.00" lengthAdjust="spacingAndGlyphs" stroke="#000" stroke-width="0.15">−0.5</text>
<line x1="127.00" y1="440.9" x2="127.00" y2="444.4" stroke="#262626" stroke-width="0.7"/>
<line x1="127.00" y1="278.5" x2="127.00" y2="281.7" stroke="#262626" stroke-width="0.7"/>
<text x="127.00" y="453.70" font-size="7.84" text-anchor="middle" textLength="11.13" lengthAdjust="spacingAndGlyphs" stroke="#000" stroke-width="0.15">0.0</text>
<line x1="160.05" y1="440.9" x2="160.05" y2="444.4" stroke="#262626" stroke-width="0.7"/>
<line x1="160.05" y1="278.5" x2="160.05" y2="281.7" stroke="#262626" stroke-width="0.7"/>
<text x="160.05" y="453.70" font-size="7.84" text-anchor="middle" textLength="11.13" lengthAdjust="spacingAndGlyphs" stroke="#000" stroke-width="0.15">0.5</text>
<line x1="193.10" y1="440.9" x2="193.10" y2="444.4" stroke="#262626" stroke-width="0.7"/>
<line x1="193.10" y1="278.5" x2="193.10" y2="281.7" stroke="#262626" stroke-width="0.7"/>
<text x="193.10" y="453.70" font-size="7.84" text-anchor="middle" textLength="11.13" lengthAdjust="spacingAndGlyphs" stroke="#000" stroke-width="0.15">1.0</text>
<text x="123.50" y="464.00" font-size="7.88" text-anchor="middle" textLength="94.00" lengthAdjust="spacingAndGlyphs" stroke="#000" stroke-width="0.15">Feature Contribution (Br)</text>
<text x="22.1" y="360.5" font-size="7.5" text-anchor="middle" transform="rotate(-90 22.1 360.5)" textLength="123" lengthAdjust="spacingAndGlyphs">Coefficient of Determination(<tspan font-style="italic">R</tspan><tspan font-size="5" dy="-3">2</tspan><tspan dy="3">)</tspan></text>
<text x="245.60" y="275.70" font-size="6.83" textLength="14.90" lengthAdjust="spacingAndGlyphs" stroke="#000" stroke-width="0.15">Filter</text>
<rect x="243.3" y="277.5" width="38.30" height="33.80" rx="1.2" fill="#fff" stroke="#d9d9d9" stroke-width="0.6"/>
<circle cx="249.7" cy="282.7" r="1.9" fill="#ffbb78"/>
<text x="253.90" y="284.50" font-size="5.04" textLength="18.78" lengthAdjust="spacingAndGlyphs" stroke="#000" stroke-width="0.15">Original</text>
<circle cx="249.7" cy="289.2" r="1.9" fill="#1f77b4"/>
<text x="253.90" y="291.00" font-size="5.04" textLength="14.03" lengthAdjust="spacingAndGlyphs" stroke="#000" stroke-width="0.15">LoG-1</text>
<circle cx="249.7" cy="295.6" r="1.9" fill="#aec7e8"/>
<text x="253.90" y="297.40" font-size="5.04" textLength="14.03" lengthAdjust="spacingAndGlyphs" stroke="#000" stroke-width="0.15">LoG-2</text>
<circle cx="249.7" cy="302.2" r="1.9" fill="#ff7f0e"/>
<text x="253.90" y="304.00" font-size="5.04" textLength="14.03" lengthAdjust="spacingAndGlyphs" stroke="#000" stroke-width="0.15">LoG-3</text>
<text x="243.30" y="323.00" font-size="6.83" textLength="38.30" lengthAdjust="spacingAndGlyphs" stroke="#000" stroke-width="0.15">Feature type</text>
<rect x="243.4" y="326.2" width="38.10" height="43.90" rx="1.2" fill="#fff" stroke="#d9d9d9" stroke-width="0.6"/>
<g transform="translate(249.9 331.9) scale(0.85)" fill="#333"><circle cx="0" cy="0" r="2.3"/></g>
<text x="254.40" y="333.70" font-size="5.04" textLength="23.74" lengthAdjust="spacingAndGlyphs" stroke="#000" stroke-width="0.15">FirstOrder</text>
<g transform="translate(249.9 338.3) scale(0.85)" fill="#333"><path d="M-2.4,-1.4 L-1.4,-2.4 L0,-1 L1.4,-2.4 L2.4,-1.4 L1,0 L2.4,1.4 L1.4,2.4 L0,1 L-1.4,2.4 L-2.4,1.4 L-1,0 Z"/></g>
<text x="254.40" y="340.10" font-size="5.04" textLength="13.89" lengthAdjust="spacingAndGlyphs" stroke="#000" stroke-width="0.15">GLCM</text>
<g transform="translate(249.9 344.3) scale(0.85)" fill="#333"><rect x="-1.5" y="-1.5" width="3" height="3"/></g>
<text x="254.40" y="346.10" font-size="5.04" textLength="14.23" lengthAdjust="spacingAndGlyphs" stroke="#000" stroke-width="0.15">GLDM</text>
<g transform="translate(249.9 351.0) scale(0.85)" fill="#333"><path d="M-0.75,-2.4 H0.75 V-0.75 H2.4 V0.75 H0.75 V2.4 H-0.75 V0.75 H-2.4 V-0.75 H-0.75 Z"/></g>
<text x="254.40" y="352.80" font-size="5.04" textLength="16.54" lengthAdjust="spacingAndGlyphs" stroke="#000" stroke-width="0.15">GLRLM</text>
<g transform="translate(249.9 357.7) scale(0.85)" fill="#333"><path d="M0,-2.6 L2.3,0 L0,2.6 L-2.3,0 Z"/></g>
<text x="254.40" y="359.50" font-size="5.04" textLength="16.87" lengthAdjust="spacingAndGlyphs" stroke="#000" stroke-width="0.15">GLSZM</text>
<path d="M249.9,362.5 V365.9 M248.2,364.2 H251.6" stroke="#333" stroke-width="0.8"/>
<text x="254.40" y="366.00" font-size="5.04" textLength="17.91" lengthAdjust="spacingAndGlyphs" stroke="#000" stroke-width="0.15">NGTDM</text>
</svg>
</body></html>
